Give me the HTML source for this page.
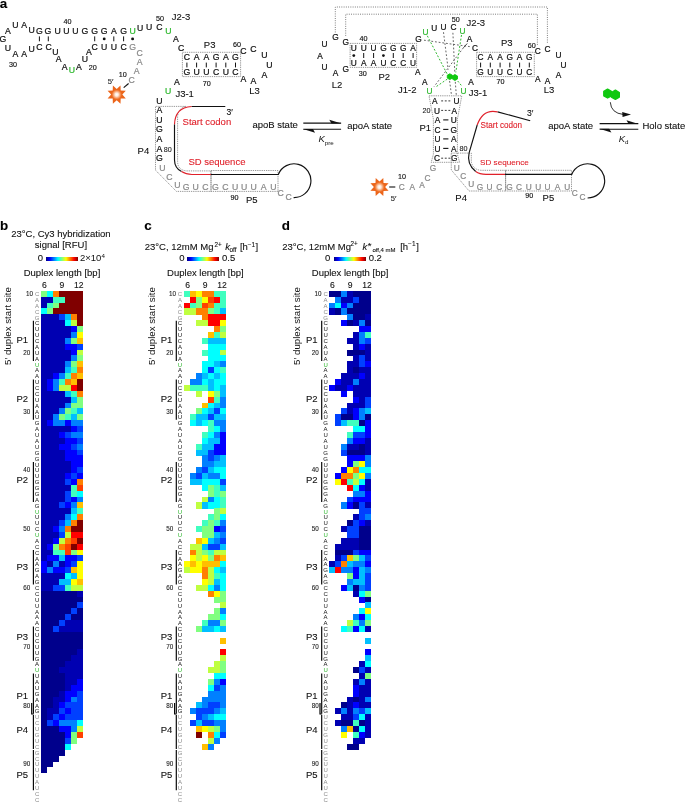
<!DOCTYPE html>
<html lang="en"><head><meta charset="utf-8"><title>Figure</title>
<style>html,body{margin:0;padding:0;background:#fff}svg{display:block}text{white-space:pre}</style></head>
<body>
<svg width="685" height="802" viewBox="0 0 685 802" font-family="'Liberation Sans', sans-serif">
<rect width="685" height="802" fill="#fff"/>
<text x="-0.3" y="7.5" font-size="13.4" fill="#000" text-anchor="start" font-weight="bold" stroke="#000" stroke-width="0.1">a</text>
<text x="0.1" y="230.2" font-size="13.4" fill="#000" text-anchor="start" font-weight="bold" stroke="#000" stroke-width="0.1">b</text>
<text x="144.2" y="230.1" font-size="13.4" fill="#000" text-anchor="start" font-weight="bold" stroke="#000" stroke-width="0.1">c</text>
<text x="281.7" y="230.1" font-size="13.4" fill="#000" text-anchor="start" font-weight="bold" stroke="#000" stroke-width="0.1">d</text>
<g shape-rendering="crispEdges">
<rect x="41.00" y="290.80" width="6.22" height="6.18" fill="#80ff80"/>
<rect x="46.92" y="290.80" width="6.22" height="6.18" fill="#00ffff"/>
<rect x="52.84" y="290.80" width="6.22" height="6.18" fill="#ff8000"/>
<rect x="58.76" y="290.80" width="23.98" height="6.18" fill="#800000"/>
<rect x="41.00" y="296.68" width="12.14" height="6.18" fill="#0000b2"/>
<rect x="52.84" y="296.68" width="12.14" height="6.18" fill="#40ffbf"/>
<rect x="64.68" y="296.68" width="18.06" height="6.18" fill="#800000"/>
<rect x="41.00" y="302.56" width="6.22" height="6.18" fill="#0000b2"/>
<rect x="46.92" y="302.56" width="6.22" height="6.18" fill="#40ffbf"/>
<rect x="52.84" y="302.56" width="6.22" height="6.18" fill="#80ff80"/>
<rect x="58.76" y="302.56" width="23.98" height="6.18" fill="#800000"/>
<rect x="41.00" y="308.44" width="6.22" height="6.18" fill="#00ffff"/>
<rect x="46.92" y="308.44" width="6.22" height="6.18" fill="#80ff80"/>
<rect x="52.84" y="308.44" width="29.90" height="6.18" fill="#800000"/>
<rect x="41.00" y="314.32" width="18.06" height="6.18" fill="#0000b2"/>
<rect x="58.76" y="314.32" width="6.22" height="6.18" fill="#0040ff"/>
<rect x="64.68" y="314.32" width="6.22" height="6.18" fill="#00bfff"/>
<rect x="70.60" y="314.32" width="6.22" height="6.18" fill="#ff8000"/>
<rect x="76.52" y="314.32" width="6.22" height="6.18" fill="#800000"/>
<rect x="41.00" y="320.20" width="23.98" height="6.18" fill="#0000b2"/>
<rect x="64.68" y="320.20" width="6.22" height="6.18" fill="#00ffff"/>
<rect x="70.60" y="320.20" width="6.22" height="6.18" fill="#bfff40"/>
<rect x="76.52" y="320.20" width="6.22" height="6.18" fill="#800000"/>
<rect x="41.00" y="326.08" width="29.90" height="6.18" fill="#0000b2"/>
<rect x="70.60" y="326.08" width="6.22" height="6.18" fill="#0000ff"/>
<rect x="76.52" y="326.08" width="6.22" height="6.18" fill="#80ff80"/>
<rect x="41.00" y="331.96" width="29.90" height="6.18" fill="#0000b2"/>
<rect x="70.60" y="331.96" width="6.22" height="6.18" fill="#0080ff"/>
<rect x="76.52" y="331.96" width="6.22" height="6.18" fill="#ffff00"/>
<rect x="41.00" y="337.84" width="23.98" height="6.18" fill="#0000b2"/>
<rect x="64.68" y="337.84" width="6.22" height="6.18" fill="#0080ff"/>
<rect x="70.60" y="337.84" width="6.22" height="6.18" fill="#80ff80"/>
<rect x="76.52" y="337.84" width="6.22" height="6.18" fill="#ffbf00"/>
<rect x="41.00" y="343.72" width="23.98" height="6.18" fill="#0000b2"/>
<rect x="64.68" y="343.72" width="12.14" height="6.18" fill="#0000ff"/>
<rect x="76.52" y="343.72" width="6.22" height="6.18" fill="#0040ff"/>
<rect x="41.00" y="349.60" width="29.90" height="6.18" fill="#0000b2"/>
<rect x="70.60" y="349.60" width="6.22" height="6.18" fill="#0000ff"/>
<rect x="76.52" y="349.60" width="6.22" height="6.18" fill="#bfff40"/>
<rect x="41.00" y="355.48" width="29.90" height="6.18" fill="#0000b2"/>
<rect x="70.60" y="355.48" width="6.22" height="6.18" fill="#0080ff"/>
<rect x="76.52" y="355.48" width="6.22" height="6.18" fill="#80ff80"/>
<rect x="41.00" y="361.36" width="23.98" height="6.18" fill="#0000b2"/>
<rect x="64.68" y="361.36" width="6.22" height="6.18" fill="#0080ff"/>
<rect x="70.60" y="361.36" width="6.22" height="6.18" fill="#80ff80"/>
<rect x="76.52" y="361.36" width="6.22" height="6.18" fill="#ffbf00"/>
<rect x="41.00" y="367.24" width="23.98" height="6.18" fill="#0000b2"/>
<rect x="64.68" y="367.24" width="6.22" height="6.18" fill="#00bfff"/>
<rect x="70.60" y="367.24" width="6.22" height="6.18" fill="#40ffbf"/>
<rect x="76.52" y="367.24" width="6.22" height="6.18" fill="#ff8000"/>
<rect x="41.00" y="373.12" width="12.14" height="6.18" fill="#0000b2"/>
<rect x="52.84" y="373.12" width="6.22" height="6.18" fill="#0000ff"/>
<rect x="58.76" y="373.12" width="6.22" height="6.18" fill="#0080ff"/>
<rect x="64.68" y="373.12" width="6.22" height="6.18" fill="#40ffbf"/>
<rect x="70.60" y="373.12" width="6.22" height="6.18" fill="#ff8000"/>
<rect x="76.52" y="373.12" width="6.22" height="6.18" fill="#ffbf00"/>
<rect x="41.00" y="379.00" width="6.22" height="6.18" fill="#0000b2"/>
<rect x="46.92" y="379.00" width="6.22" height="6.18" fill="#0000ff"/>
<rect x="52.84" y="379.00" width="6.22" height="6.18" fill="#0080ff"/>
<rect x="58.76" y="379.00" width="6.22" height="6.18" fill="#40ffbf"/>
<rect x="64.68" y="379.00" width="6.22" height="6.18" fill="#ff8000"/>
<rect x="70.60" y="379.00" width="6.22" height="6.18" fill="#ffbf00"/>
<rect x="76.52" y="379.00" width="6.22" height="6.18" fill="#800000"/>
<rect x="41.00" y="384.88" width="6.22" height="6.18" fill="#0000b2"/>
<rect x="46.92" y="384.88" width="6.22" height="6.18" fill="#0000ff"/>
<rect x="52.84" y="384.88" width="6.22" height="6.18" fill="#0080ff"/>
<rect x="58.76" y="384.88" width="12.14" height="6.18" fill="#bfff40"/>
<rect x="70.60" y="384.88" width="6.22" height="6.18" fill="#ff0000"/>
<rect x="76.52" y="384.88" width="6.22" height="6.18" fill="#800000"/>
<rect x="41.00" y="390.76" width="23.98" height="6.18" fill="#0000b2"/>
<rect x="64.68" y="390.76" width="6.22" height="6.18" fill="#00bfff"/>
<rect x="70.60" y="390.76" width="6.22" height="6.18" fill="#40ffbf"/>
<rect x="76.52" y="390.76" width="6.22" height="6.18" fill="#ff8000"/>
<rect x="41.00" y="396.64" width="29.90" height="6.18" fill="#0000b2"/>
<rect x="70.60" y="396.64" width="6.22" height="6.18" fill="#00bfff"/>
<rect x="76.52" y="396.64" width="6.22" height="6.18" fill="#80ff80"/>
<rect x="41.00" y="402.52" width="23.98" height="6.18" fill="#0000b2"/>
<rect x="64.68" y="402.52" width="6.22" height="6.18" fill="#0080ff"/>
<rect x="70.60" y="402.52" width="12.14" height="6.18" fill="#80ff80"/>
<rect x="41.00" y="408.40" width="18.06" height="6.18" fill="#0000b2"/>
<rect x="58.76" y="408.40" width="6.22" height="6.18" fill="#0080ff"/>
<rect x="64.68" y="408.40" width="6.22" height="6.18" fill="#80ff80"/>
<rect x="70.60" y="408.40" width="6.22" height="6.18" fill="#40ffbf"/>
<rect x="76.52" y="408.40" width="6.22" height="6.18" fill="#00bfff"/>
<rect x="41.00" y="414.28" width="12.14" height="6.18" fill="#0000b2"/>
<rect x="52.84" y="414.28" width="6.22" height="6.18" fill="#0080ff"/>
<rect x="58.76" y="414.28" width="6.22" height="6.18" fill="#80ff80"/>
<rect x="64.68" y="414.28" width="6.22" height="6.18" fill="#40ffbf"/>
<rect x="70.60" y="414.28" width="6.22" height="6.18" fill="#00bfff"/>
<rect x="76.52" y="414.28" width="6.22" height="6.18" fill="#80ff80"/>
<rect x="41.00" y="420.16" width="6.22" height="6.18" fill="#0000b2"/>
<rect x="46.92" y="420.16" width="6.22" height="6.18" fill="#0000ff"/>
<rect x="52.84" y="420.16" width="12.14" height="6.18" fill="#0080ff"/>
<rect x="64.68" y="420.16" width="6.22" height="6.18" fill="#0000ff"/>
<rect x="70.60" y="420.16" width="12.14" height="6.18" fill="#0080ff"/>
<rect x="41.00" y="426.04" width="29.90" height="6.18" fill="#0000b2"/>
<rect x="70.60" y="426.04" width="6.22" height="6.18" fill="#0000ff"/>
<rect x="76.52" y="426.04" width="6.22" height="6.18" fill="#0040ff"/>
<rect x="41.00" y="431.92" width="18.06" height="6.18" fill="#0000b2"/>
<rect x="58.76" y="431.92" width="6.22" height="6.18" fill="#0000ff"/>
<rect x="64.68" y="431.92" width="6.22" height="6.18" fill="#0040ff"/>
<rect x="70.60" y="431.92" width="12.14" height="6.18" fill="#0080ff"/>
<rect x="41.00" y="437.80" width="23.98" height="6.18" fill="#0000b2"/>
<rect x="64.68" y="437.80" width="12.14" height="6.18" fill="#0000ff"/>
<rect x="76.52" y="437.80" width="6.22" height="6.18" fill="#0040ff"/>
<rect x="41.00" y="443.68" width="18.06" height="6.18" fill="#0000b2"/>
<rect x="58.76" y="443.68" width="12.14" height="6.18" fill="#0000ff"/>
<rect x="70.60" y="443.68" width="6.22" height="6.18" fill="#0040ff"/>
<rect x="76.52" y="443.68" width="6.22" height="6.18" fill="#0080ff"/>
<rect x="41.00" y="449.56" width="23.98" height="6.18" fill="#0000b2"/>
<rect x="64.68" y="449.56" width="12.14" height="6.18" fill="#0000ff"/>
<rect x="76.52" y="449.56" width="6.22" height="6.18" fill="#0040ff"/>
<rect x="41.00" y="455.44" width="23.98" height="6.18" fill="#0000b2"/>
<rect x="64.68" y="455.44" width="18.06" height="6.18" fill="#0000ff"/>
<rect x="41.00" y="461.32" width="29.90" height="6.18" fill="#0000b2"/>
<rect x="70.60" y="461.32" width="12.14" height="6.18" fill="#0000ff"/>
<rect x="41.00" y="467.20" width="29.90" height="6.18" fill="#0000b2"/>
<rect x="70.60" y="467.20" width="6.22" height="6.18" fill="#0000ff"/>
<rect x="76.52" y="467.20" width="6.22" height="6.18" fill="#0040ff"/>
<rect x="41.00" y="473.08" width="23.98" height="6.18" fill="#0000b2"/>
<rect x="64.68" y="473.08" width="6.22" height="6.18" fill="#0000ff"/>
<rect x="70.60" y="473.08" width="6.22" height="6.18" fill="#0040ff"/>
<rect x="76.52" y="473.08" width="6.22" height="6.18" fill="#0000ff"/>
<rect x="41.00" y="478.96" width="23.98" height="6.18" fill="#0000b2"/>
<rect x="64.68" y="478.96" width="6.22" height="6.18" fill="#0040ff"/>
<rect x="70.60" y="478.96" width="6.22" height="6.18" fill="#0000ff"/>
<rect x="76.52" y="478.96" width="6.22" height="6.18" fill="#ff8000"/>
<rect x="41.00" y="484.84" width="29.90" height="6.18" fill="#0000b2"/>
<rect x="70.60" y="484.84" width="6.22" height="6.18" fill="#40ffbf"/>
<rect x="76.52" y="484.84" width="6.22" height="6.18" fill="#ff4000"/>
<rect x="41.00" y="490.72" width="23.98" height="6.18" fill="#0000b2"/>
<rect x="64.68" y="490.72" width="6.22" height="6.18" fill="#0040ff"/>
<rect x="70.60" y="490.72" width="6.22" height="6.18" fill="#40ffbf"/>
<rect x="76.52" y="490.72" width="6.22" height="6.18" fill="#00ffff"/>
<rect x="41.00" y="496.60" width="23.98" height="6.18" fill="#0000b2"/>
<rect x="64.68" y="496.60" width="6.22" height="6.18" fill="#0040ff"/>
<rect x="70.60" y="496.60" width="6.22" height="6.18" fill="#0000ff"/>
<rect x="76.52" y="496.60" width="6.22" height="6.18" fill="#0080ff"/>
<rect x="41.00" y="502.48" width="18.06" height="6.18" fill="#0000b2"/>
<rect x="58.76" y="502.48" width="6.22" height="6.18" fill="#0040ff"/>
<rect x="64.68" y="502.48" width="6.22" height="6.18" fill="#0000ff"/>
<rect x="70.60" y="502.48" width="6.22" height="6.18" fill="#0080ff"/>
<rect x="76.52" y="502.48" width="6.22" height="6.18" fill="#ffbf00"/>
<rect x="41.00" y="508.36" width="29.90" height="6.18" fill="#0000b2"/>
<rect x="70.60" y="508.36" width="6.22" height="6.18" fill="#00bfff"/>
<rect x="76.52" y="508.36" width="6.22" height="6.18" fill="#40ffbf"/>
<rect x="41.00" y="514.24" width="23.98" height="6.18" fill="#0000b2"/>
<rect x="64.68" y="514.24" width="6.22" height="6.18" fill="#0080ff"/>
<rect x="70.60" y="514.24" width="6.22" height="6.18" fill="#00ffff"/>
<rect x="76.52" y="514.24" width="6.22" height="6.18" fill="#ff8000"/>
<rect x="41.00" y="520.12" width="18.06" height="6.18" fill="#0000b2"/>
<rect x="58.76" y="520.12" width="6.22" height="6.18" fill="#0040ff"/>
<rect x="64.68" y="520.12" width="6.22" height="6.18" fill="#00bfff"/>
<rect x="70.60" y="520.12" width="6.22" height="6.18" fill="#ff8000"/>
<rect x="76.52" y="520.12" width="6.22" height="6.18" fill="#800000"/>
<rect x="41.00" y="526.00" width="12.14" height="6.18" fill="#0000b2"/>
<rect x="52.84" y="526.00" width="6.22" height="6.18" fill="#0000ff"/>
<rect x="58.76" y="526.00" width="6.22" height="6.18" fill="#0080ff"/>
<rect x="64.68" y="526.00" width="6.22" height="6.18" fill="#ff8000"/>
<rect x="70.60" y="526.00" width="12.14" height="6.18" fill="#800000"/>
<rect x="41.00" y="531.88" width="18.06" height="6.18" fill="#0000b2"/>
<rect x="58.76" y="531.88" width="6.22" height="6.18" fill="#0040ff"/>
<rect x="64.68" y="531.88" width="6.22" height="6.18" fill="#bfff40"/>
<rect x="70.60" y="531.88" width="12.14" height="6.18" fill="#ff0000"/>
<rect x="41.00" y="537.76" width="12.14" height="6.18" fill="#0000b2"/>
<rect x="52.84" y="537.76" width="6.22" height="6.18" fill="#0000ff"/>
<rect x="58.76" y="537.76" width="6.22" height="6.18" fill="#bfff40"/>
<rect x="64.68" y="537.76" width="6.22" height="6.18" fill="#ff8000"/>
<rect x="70.60" y="537.76" width="6.22" height="6.18" fill="#ff4000"/>
<rect x="76.52" y="537.76" width="6.22" height="6.18" fill="#800000"/>
<rect x="41.00" y="543.64" width="6.22" height="6.18" fill="#0000b2"/>
<rect x="46.92" y="543.64" width="6.22" height="6.18" fill="#0000ff"/>
<rect x="52.84" y="543.64" width="6.22" height="6.18" fill="#80ff80"/>
<rect x="58.76" y="543.64" width="6.22" height="6.18" fill="#ff8000"/>
<rect x="64.68" y="543.64" width="6.22" height="6.18" fill="#ff4000"/>
<rect x="70.60" y="543.64" width="6.22" height="6.18" fill="#800000"/>
<rect x="76.52" y="543.64" width="6.22" height="6.18" fill="#ff0000"/>
<rect x="41.00" y="549.52" width="12.14" height="6.18" fill="#0000b2"/>
<rect x="52.84" y="549.52" width="12.14" height="6.18" fill="#40ffbf"/>
<rect x="64.68" y="549.52" width="6.22" height="6.18" fill="#ff4000"/>
<rect x="70.60" y="549.52" width="6.22" height="6.18" fill="#80ff80"/>
<rect x="76.52" y="549.52" width="6.22" height="6.18" fill="#ffff00"/>
<rect x="41.00" y="555.40" width="6.22" height="6.18" fill="#0000b2"/>
<rect x="46.92" y="555.40" width="12.14" height="6.18" fill="#0000ff"/>
<rect x="58.76" y="555.40" width="6.22" height="6.18" fill="#00bfff"/>
<rect x="64.68" y="555.40" width="12.14" height="6.18" fill="#0000ff"/>
<rect x="76.52" y="555.40" width="6.22" height="6.18" fill="#0040ff"/>
<rect x="41.00" y="561.28" width="6.22" height="6.18" fill="#0000ff"/>
<rect x="46.92" y="561.28" width="6.22" height="6.18" fill="#0000b2"/>
<rect x="52.84" y="561.28" width="6.22" height="6.18" fill="#0080ff"/>
<rect x="58.76" y="561.28" width="6.22" height="6.18" fill="#0000b2"/>
<rect x="64.68" y="561.28" width="6.22" height="6.18" fill="#0000ff"/>
<rect x="70.60" y="561.28" width="6.22" height="6.18" fill="#0040ff"/>
<rect x="76.52" y="561.28" width="6.22" height="6.18" fill="#ffff00"/>
<rect x="41.00" y="567.16" width="6.22" height="6.18" fill="#0000ff"/>
<rect x="46.92" y="567.16" width="6.22" height="6.18" fill="#0080ff"/>
<rect x="52.84" y="567.16" width="12.14" height="6.18" fill="#0000ff"/>
<rect x="64.68" y="567.16" width="6.22" height="6.18" fill="#0040ff"/>
<rect x="70.60" y="567.16" width="6.22" height="6.18" fill="#ffbf00"/>
<rect x="76.52" y="567.16" width="6.22" height="6.18" fill="#ffff00"/>
<rect x="41.00" y="573.04" width="23.98" height="6.18" fill="#0000b2"/>
<rect x="64.68" y="573.04" width="6.22" height="6.18" fill="#00ffff"/>
<rect x="70.60" y="573.04" width="6.22" height="6.18" fill="#00bfff"/>
<rect x="76.52" y="573.04" width="6.22" height="6.18" fill="#ffff00"/>
<rect x="41.00" y="578.92" width="18.06" height="6.18" fill="#0000b2"/>
<rect x="58.76" y="578.92" width="12.14" height="6.18" fill="#00bfff"/>
<rect x="70.60" y="578.92" width="6.22" height="6.18" fill="#ffff00"/>
<rect x="76.52" y="578.92" width="6.22" height="6.18" fill="#ffbf00"/>
<rect x="41.00" y="584.80" width="12.14" height="6.18" fill="#0000b2"/>
<rect x="52.84" y="584.80" width="12.14" height="6.18" fill="#0040ff"/>
<rect x="64.68" y="584.80" width="6.22" height="6.18" fill="#40ffbf"/>
<rect x="70.60" y="584.80" width="12.14" height="6.18" fill="#bfff40"/>
<rect x="41.00" y="590.68" width="35.82" height="6.18" fill="#00008c"/>
<rect x="76.52" y="590.68" width="6.22" height="6.18" fill="#0000b2"/>
<rect x="41.00" y="596.56" width="41.74" height="6.18" fill="#00008c"/>
<rect x="41.00" y="602.44" width="35.82" height="6.18" fill="#00008c"/>
<rect x="76.52" y="602.44" width="6.22" height="6.18" fill="#0040ff"/>
<rect x="41.00" y="608.32" width="29.90" height="6.18" fill="#00008c"/>
<rect x="70.60" y="608.32" width="6.22" height="6.18" fill="#0040ff"/>
<rect x="76.52" y="608.32" width="6.22" height="6.18" fill="#00008c"/>
<rect x="41.00" y="614.20" width="23.98" height="6.18" fill="#00008c"/>
<rect x="64.68" y="614.20" width="6.22" height="6.18" fill="#0040ff"/>
<rect x="70.60" y="614.20" width="12.14" height="6.18" fill="#00008c"/>
<rect x="41.00" y="620.08" width="18.06" height="6.18" fill="#00008c"/>
<rect x="58.76" y="620.08" width="6.22" height="6.18" fill="#0040ff"/>
<rect x="64.68" y="620.08" width="18.06" height="6.18" fill="#0000b2"/>
<rect x="41.00" y="625.96" width="12.14" height="6.18" fill="#00008c"/>
<rect x="52.84" y="625.96" width="6.22" height="6.18" fill="#0040ff"/>
<rect x="58.76" y="625.96" width="23.98" height="6.18" fill="#0000b2"/>
<rect x="41.00" y="631.84" width="41.74" height="6.18" fill="#00008c"/>
<rect x="41.00" y="637.72" width="41.74" height="6.18" fill="#00008c"/>
<rect x="41.00" y="643.60" width="41.74" height="6.18" fill="#00008c"/>
<rect x="41.00" y="649.48" width="35.82" height="6.18" fill="#00008c"/>
<rect x="76.52" y="649.48" width="6.22" height="6.18" fill="#0000b2"/>
<rect x="41.00" y="655.36" width="29.90" height="6.18" fill="#00008c"/>
<rect x="70.60" y="655.36" width="12.14" height="6.18" fill="#0000b2"/>
<rect x="41.00" y="661.24" width="23.98" height="6.18" fill="#00008c"/>
<rect x="64.68" y="661.24" width="18.06" height="6.18" fill="#0000b2"/>
<rect x="41.00" y="667.12" width="18.06" height="6.18" fill="#00008c"/>
<rect x="58.76" y="667.12" width="23.98" height="6.18" fill="#0000b2"/>
<rect x="41.00" y="673.00" width="23.98" height="6.18" fill="#00008c"/>
<rect x="64.68" y="673.00" width="18.06" height="6.18" fill="#0000b2"/>
<rect x="41.00" y="678.88" width="23.98" height="6.18" fill="#00008c"/>
<rect x="64.68" y="678.88" width="12.14" height="6.18" fill="#0000b2"/>
<rect x="76.52" y="678.88" width="6.22" height="6.18" fill="#0000ff"/>
<rect x="41.00" y="684.76" width="23.98" height="6.18" fill="#00008c"/>
<rect x="64.68" y="684.76" width="6.22" height="6.18" fill="#0000b2"/>
<rect x="70.60" y="684.76" width="12.14" height="6.18" fill="#0000ff"/>
<rect x="41.00" y="690.64" width="18.06" height="6.18" fill="#00008c"/>
<rect x="58.76" y="690.64" width="6.22" height="6.18" fill="#0000b2"/>
<rect x="64.68" y="690.64" width="12.14" height="6.18" fill="#0000ff"/>
<rect x="76.52" y="690.64" width="6.22" height="6.18" fill="#0040ff"/>
<rect x="41.00" y="696.52" width="12.14" height="6.18" fill="#00008c"/>
<rect x="52.84" y="696.52" width="12.14" height="6.18" fill="#0000b2"/>
<rect x="64.68" y="696.52" width="6.22" height="6.18" fill="#0000ff"/>
<rect x="70.60" y="696.52" width="6.22" height="6.18" fill="#0080ff"/>
<rect x="76.52" y="696.52" width="6.22" height="6.18" fill="#0040ff"/>
<rect x="41.00" y="702.40" width="12.14" height="6.18" fill="#00008c"/>
<rect x="52.84" y="702.40" width="6.22" height="6.18" fill="#0000b2"/>
<rect x="58.76" y="702.40" width="6.22" height="6.18" fill="#0000ff"/>
<rect x="64.68" y="702.40" width="18.06" height="6.18" fill="#0040ff"/>
<rect x="41.00" y="708.28" width="6.22" height="6.18" fill="#00008c"/>
<rect x="46.92" y="708.28" width="12.14" height="6.18" fill="#0000b2"/>
<rect x="58.76" y="708.28" width="6.22" height="6.18" fill="#0040ff"/>
<rect x="64.68" y="708.28" width="6.22" height="6.18" fill="#0000ff"/>
<rect x="70.60" y="708.28" width="12.14" height="6.18" fill="#0040ff"/>
<rect x="41.00" y="714.16" width="6.22" height="6.18" fill="#00008c"/>
<rect x="46.92" y="714.16" width="6.22" height="6.18" fill="#0000b2"/>
<rect x="52.84" y="714.16" width="6.22" height="6.18" fill="#0040ff"/>
<rect x="58.76" y="714.16" width="6.22" height="6.18" fill="#0000ff"/>
<rect x="64.68" y="714.16" width="18.06" height="6.18" fill="#0040ff"/>
<rect x="41.00" y="720.04" width="6.22" height="6.18" fill="#00008c"/>
<rect x="46.92" y="720.04" width="6.22" height="6.18" fill="#0040ff"/>
<rect x="52.84" y="720.04" width="6.22" height="6.18" fill="#0000ff"/>
<rect x="58.76" y="720.04" width="18.06" height="6.18" fill="#0080ff"/>
<rect x="76.52" y="720.04" width="6.22" height="6.18" fill="#00ffff"/>
<rect x="41.00" y="725.92" width="18.06" height="6.18" fill="#00008c"/>
<rect x="58.76" y="725.92" width="12.14" height="6.18" fill="#0000ff"/>
<rect x="70.60" y="725.92" width="6.22" height="6.18" fill="#0080ff"/>
<rect x="76.52" y="725.92" width="6.22" height="6.18" fill="#bfff40"/>
<rect x="41.00" y="731.80" width="23.98" height="6.18" fill="#00008c"/>
<rect x="64.68" y="731.80" width="6.22" height="6.18" fill="#0000ff"/>
<rect x="70.60" y="731.80" width="6.22" height="6.18" fill="#80ff80"/>
<rect x="76.52" y="731.80" width="6.22" height="6.18" fill="#ff4000"/>
<rect x="41.00" y="737.68" width="23.98" height="6.18" fill="#00008c"/>
<rect x="64.68" y="737.68" width="6.22" height="6.18" fill="#0040ff"/>
<rect x="70.60" y="737.68" width="6.22" height="6.18" fill="#80ff80"/>
<rect x="41.00" y="743.56" width="23.98" height="6.18" fill="#00008c"/>
<rect x="64.68" y="743.56" width="6.22" height="6.18" fill="#00ffff"/>
<rect x="41.00" y="749.44" width="23.98" height="6.18" fill="#00008c"/>
<rect x="41.00" y="755.32" width="18.06" height="6.18" fill="#00008c"/>
<rect x="41.00" y="761.20" width="12.14" height="6.18" fill="#00008c"/>
<rect x="41.00" y="767.08" width="6.22" height="6.18" fill="#00008c"/>
</g>
<text x="37.1" y="295.9" font-size="6.0" fill="#8a8a8a" text-anchor="middle" stroke="none">C</text>
<text x="37.1" y="301.8" font-size="6.0" fill="#8a8a8a" text-anchor="middle" stroke="none">A</text>
<text x="37.1" y="307.7" font-size="6.0" fill="#8a8a8a" text-anchor="middle" stroke="none">A</text>
<text x="37.1" y="313.6" font-size="6.0" fill="#8a8a8a" text-anchor="middle" stroke="none">C</text>
<text x="37.1" y="319.5" font-size="6.0" fill="#8a8a8a" text-anchor="middle" stroke="none">G</text>
<text x="37.1" y="325.3" font-size="6.0" fill="#111" text-anchor="middle" stroke="none">C</text>
<text x="37.1" y="331.2" font-size="6.0" fill="#111" text-anchor="middle" stroke="none">U</text>
<text x="37.1" y="337.1" font-size="6.0" fill="#111" text-anchor="middle" stroke="none">U</text>
<text x="37.1" y="343.0" font-size="6.0" fill="#111" text-anchor="middle" stroke="none">C</text>
<text x="37.1" y="348.9" font-size="6.0" fill="#111" text-anchor="middle" stroke="none">A</text>
<text x="37.1" y="354.8" font-size="6.0" fill="#111" text-anchor="middle" stroke="none">U</text>
<text x="37.1" y="360.6" font-size="6.0" fill="#111" text-anchor="middle" stroke="none">A</text>
<text x="37.1" y="366.5" font-size="6.0" fill="#2eb82e" text-anchor="middle" stroke="none">U</text>
<text x="37.1" y="372.4" font-size="6.0" fill="#111" text-anchor="middle" stroke="none">A</text>
<text x="37.1" y="378.3" font-size="6.0" fill="#111" text-anchor="middle" stroke="none">A</text>
<text x="37.1" y="384.1" font-size="6.0" fill="#111" text-anchor="middle" stroke="none">U</text>
<text x="37.1" y="390.0" font-size="6.0" fill="#111" text-anchor="middle" stroke="none">C</text>
<text x="37.1" y="395.9" font-size="6.0" fill="#111" text-anchor="middle" stroke="none">C</text>
<text x="37.1" y="401.8" font-size="6.0" fill="#111" text-anchor="middle" stroke="none">U</text>
<text x="37.1" y="407.7" font-size="6.0" fill="#111" text-anchor="middle" stroke="none">A</text>
<text x="37.1" y="413.5" font-size="6.0" fill="#111" text-anchor="middle" stroke="none">A</text>
<text x="37.1" y="419.4" font-size="6.0" fill="#111" text-anchor="middle" stroke="none">U</text>
<text x="37.1" y="425.3" font-size="6.0" fill="#111" text-anchor="middle" stroke="none">G</text>
<text x="37.1" y="431.2" font-size="6.0" fill="#111" text-anchor="middle" stroke="none">A</text>
<text x="37.1" y="437.1" font-size="6.0" fill="#111" text-anchor="middle" stroke="none">U</text>
<text x="37.1" y="442.9" font-size="6.0" fill="#111" text-anchor="middle" stroke="none">A</text>
<text x="37.1" y="448.8" font-size="6.0" fill="#111" text-anchor="middle" stroke="none">U</text>
<text x="37.1" y="454.7" font-size="6.0" fill="#111" text-anchor="middle" stroke="none">G</text>
<text x="37.1" y="460.6" font-size="6.0" fill="#111" text-anchor="middle" stroke="none">G</text>
<text x="37.1" y="466.5" font-size="6.0" fill="#111" text-anchor="middle" stroke="none">U</text>
<text x="37.1" y="472.4" font-size="6.0" fill="#111" text-anchor="middle" stroke="none">U</text>
<text x="37.1" y="478.2" font-size="6.0" fill="#111" text-anchor="middle" stroke="none">U</text>
<text x="37.1" y="484.1" font-size="6.0" fill="#111" text-anchor="middle" stroke="none">G</text>
<text x="37.1" y="490.0" font-size="6.0" fill="#111" text-anchor="middle" stroke="none">G</text>
<text x="37.1" y="495.9" font-size="6.0" fill="#111" text-anchor="middle" stroke="none">G</text>
<text x="37.1" y="501.8" font-size="6.0" fill="#111" text-anchor="middle" stroke="none">A</text>
<text x="37.1" y="507.6" font-size="6.0" fill="#111" text-anchor="middle" stroke="none">G</text>
<text x="37.1" y="513.5" font-size="6.0" fill="#2eb82e" text-anchor="middle" stroke="none">U</text>
<text x="37.1" y="519.4" font-size="6.0" fill="#111" text-anchor="middle" stroke="none">U</text>
<text x="37.1" y="525.3" font-size="6.0" fill="#111" text-anchor="middle" stroke="none">U</text>
<text x="37.1" y="531.1" font-size="6.0" fill="#111" text-anchor="middle" stroke="none">C</text>
<text x="37.1" y="537.0" font-size="6.0" fill="#2eb82e" text-anchor="middle" stroke="none">U</text>
<text x="37.1" y="542.9" font-size="6.0" fill="#111" text-anchor="middle" stroke="none">A</text>
<text x="37.1" y="548.8" font-size="6.0" fill="#111" text-anchor="middle" stroke="none">C</text>
<text x="37.1" y="554.7" font-size="6.0" fill="#111" text-anchor="middle" stroke="none">C</text>
<text x="37.1" y="560.6" font-size="6.0" fill="#111" text-anchor="middle" stroke="none">A</text>
<text x="37.1" y="566.4" font-size="6.0" fill="#111" text-anchor="middle" stroke="none">A</text>
<text x="37.1" y="572.3" font-size="6.0" fill="#111" text-anchor="middle" stroke="none">G</text>
<text x="37.1" y="578.2" font-size="6.0" fill="#111" text-anchor="middle" stroke="none">A</text>
<text x="37.1" y="584.1" font-size="6.0" fill="#111" text-anchor="middle" stroke="none">G</text>
<text x="37.1" y="589.9" font-size="6.0" fill="#111" text-anchor="middle" stroke="none">C</text>
<text x="37.1" y="595.8" font-size="6.0" fill="#111" text-anchor="middle" stroke="none">C</text>
<text x="37.1" y="601.7" font-size="6.0" fill="#111" text-anchor="middle" stroke="none">U</text>
<text x="37.1" y="607.6" font-size="6.0" fill="#111" text-anchor="middle" stroke="none">U</text>
<text x="37.1" y="613.5" font-size="6.0" fill="#111" text-anchor="middle" stroke="none">A</text>
<text x="37.1" y="619.4" font-size="6.0" fill="#111" text-anchor="middle" stroke="none">A</text>
<text x="37.1" y="625.2" font-size="6.0" fill="#111" text-anchor="middle" stroke="none">A</text>
<text x="37.1" y="631.1" font-size="6.0" fill="#111" text-anchor="middle" stroke="none">C</text>
<text x="37.1" y="637.0" font-size="6.0" fill="#111" text-anchor="middle" stroke="none">U</text>
<text x="37.1" y="642.9" font-size="6.0" fill="#111" text-anchor="middle" stroke="none">C</text>
<text x="37.1" y="648.8" font-size="6.0" fill="#111" text-anchor="middle" stroke="none">U</text>
<text x="37.1" y="654.6" font-size="6.0" fill="#111" text-anchor="middle" stroke="none">U</text>
<text x="37.1" y="660.5" font-size="6.0" fill="#111" text-anchor="middle" stroke="none">G</text>
<text x="37.1" y="666.4" font-size="6.0" fill="#111" text-anchor="middle" stroke="none">A</text>
<text x="37.1" y="672.3" font-size="6.0" fill="#2eb82e" text-anchor="middle" stroke="none">U</text>
<text x="37.1" y="678.1" font-size="6.0" fill="#111" text-anchor="middle" stroke="none">U</text>
<text x="37.1" y="684.0" font-size="6.0" fill="#111" text-anchor="middle" stroke="none">A</text>
<text x="37.1" y="689.9" font-size="6.0" fill="#111" text-anchor="middle" stroke="none">U</text>
<text x="37.1" y="695.8" font-size="6.0" fill="#111" text-anchor="middle" stroke="none">G</text>
<text x="37.1" y="701.7" font-size="6.0" fill="#111" text-anchor="middle" stroke="none">A</text>
<text x="37.1" y="707.5" font-size="6.0" fill="#111" text-anchor="middle" stroke="none">A</text>
<text x="37.1" y="713.4" font-size="6.0" fill="#111" text-anchor="middle" stroke="none">G</text>
<text x="37.1" y="719.3" font-size="6.0" fill="#8a8a8a" text-anchor="middle" stroke="none">U</text>
<text x="37.1" y="725.2" font-size="6.0" fill="#8a8a8a" text-anchor="middle" stroke="none">C</text>
<text x="37.1" y="731.1" font-size="6.0" fill="#8a8a8a" text-anchor="middle" stroke="none">U</text>
<text x="37.1" y="736.9" font-size="6.0" fill="#8a8a8a" text-anchor="middle" stroke="none">G</text>
<text x="37.1" y="742.8" font-size="6.0" fill="#8a8a8a" text-anchor="middle" stroke="none">U</text>
<text x="37.1" y="748.7" font-size="6.0" fill="#8a8a8a" text-anchor="middle" stroke="none">C</text>
<text x="37.1" y="754.6" font-size="6.0" fill="#8a8a8a" text-anchor="middle" stroke="none">G</text>
<text x="37.1" y="760.5" font-size="6.0" fill="#8a8a8a" text-anchor="middle" stroke="none">C</text>
<text x="37.1" y="766.4" font-size="6.0" fill="#8a8a8a" text-anchor="middle" stroke="none">U</text>
<text x="37.1" y="772.2" font-size="6.0" fill="#8a8a8a" text-anchor="middle" stroke="none">U</text>
<text x="37.1" y="778.1" font-size="6.0" fill="#8a8a8a" text-anchor="middle" stroke="none">U</text>
<text x="37.1" y="784.0" font-size="6.0" fill="#8a8a8a" text-anchor="middle" stroke="none">A</text>
<text x="37.1" y="789.9" font-size="6.0" fill="#8a8a8a" text-anchor="middle" stroke="none">U</text>
<text x="37.1" y="795.8" font-size="6.0" fill="#8a8a8a" text-anchor="middle" stroke="none">C</text>
<text x="37.1" y="801.6" font-size="6.0" fill="#8a8a8a" text-anchor="middle" stroke="none">C</text>
<text x="33.0" y="296.0" font-size="6.3" fill="#222" text-anchor="end" stroke="#222" stroke-width="0.1">10</text>
<text x="30.3" y="354.8" font-size="6.3" fill="#222" text-anchor="end" stroke="#222" stroke-width="0.1">20</text>
<text x="30.3" y="413.6" font-size="6.3" fill="#222" text-anchor="end" stroke="#222" stroke-width="0.1">30</text>
<text x="30.3" y="472.4" font-size="6.3" fill="#222" text-anchor="end" stroke="#222" stroke-width="0.1">40</text>
<text x="30.3" y="531.2" font-size="6.3" fill="#222" text-anchor="end" stroke="#222" stroke-width="0.1">50</text>
<text x="30.3" y="590.0" font-size="6.3" fill="#222" text-anchor="end" stroke="#222" stroke-width="0.1">60</text>
<text x="30.3" y="648.8" font-size="6.3" fill="#222" text-anchor="end" stroke="#222" stroke-width="0.1">70</text>
<text x="30.3" y="707.6" font-size="6.3" fill="#222" text-anchor="end" stroke="#222" stroke-width="0.1">80</text>
<text x="30.3" y="766.4" font-size="6.3" fill="#222" text-anchor="end" stroke="#222" stroke-width="0.1">90</text>
<line x1="33.4" y1="320.8" x2="33.4" y2="361.0" stroke="#000" stroke-width="1.15"/>
<line x1="33.4" y1="379.6" x2="33.4" y2="419.8" stroke="#000" stroke-width="1.15"/>
<line x1="33.4" y1="461.9" x2="33.4" y2="502.1" stroke="#000" stroke-width="1.15"/>
<line x1="33.4" y1="550.1" x2="33.4" y2="584.4" stroke="#000" stroke-width="1.15"/>
<line x1="33.4" y1="626.6" x2="33.4" y2="660.8" stroke="#000" stroke-width="1.15"/>
<line x1="33.4" y1="673.6" x2="33.4" y2="713.8" stroke="#000" stroke-width="1.15"/>
<line x1="33.4" y1="714.8" x2="33.4" y2="749.0" stroke="#000" stroke-width="1.15"/>
<line x1="33.4" y1="750.0" x2="33.4" y2="790.2" stroke="#000" stroke-width="1.15"/>
<path d="M31.7 703.0 V714.0 H33.4" fill="none" stroke="#000" stroke-width="1.15"/>
<text x="22.3" y="343.0" font-size="9.5" fill="#111" text-anchor="middle" stroke="#111" stroke-width="0.1">P1</text>
<text x="22.3" y="401.8" font-size="9.5" fill="#111" text-anchor="middle" stroke="#111" stroke-width="0.1">P2</text>
<text x="22.3" y="483.0" font-size="9.5" fill="#111" text-anchor="middle" stroke="#111" stroke-width="0.1">P2</text>
<text x="22.3" y="570.0" font-size="9.5" fill="#111" text-anchor="middle" stroke="#111" stroke-width="0.1">P3</text>
<text x="22.3" y="640.0" font-size="9.5" fill="#111" text-anchor="middle" stroke="#111" stroke-width="0.1">P3</text>
<text x="22.3" y="698.8" font-size="9.5" fill="#111" text-anchor="middle" stroke="#111" stroke-width="0.1">P1</text>
<text x="22.3" y="732.9" font-size="9.5" fill="#111" text-anchor="middle" stroke="#111" stroke-width="0.1">P4</text>
<text x="22.3" y="777.6" font-size="9.5" fill="#111" text-anchor="middle" stroke="#111" stroke-width="0.1">P5</text>
<text transform="translate(10.7,326) rotate(-90)" font-size="9.7" fill="#111" text-anchor="middle">5′ duplex start site</text>
<text x="60.9" y="236.9" font-size="9.5" fill="#111" text-anchor="middle" stroke="#111" stroke-width="0.1">23°C, Cy3 hybridization</text>
<text x="60.9" y="248.1" font-size="9.5" fill="#111" text-anchor="middle" stroke="#111" stroke-width="0.1">signal [RFU]</text>
<text x="40.3" y="261.3" font-size="9.5" fill="#111" text-anchor="middle" stroke="#111" stroke-width="0.1">0</text>
<g shape-rendering="crispEdges">
<rect x="45.90" y="256.9" width="1.29" height="4" fill="#00008f"/>
<rect x="46.89" y="256.9" width="1.29" height="4" fill="#0000af"/>
<rect x="47.88" y="256.9" width="1.29" height="4" fill="#0000cf"/>
<rect x="48.87" y="256.9" width="1.29" height="4" fill="#0000ef"/>
<rect x="49.86" y="256.9" width="1.29" height="4" fill="#0010ff"/>
<rect x="50.85" y="256.9" width="1.29" height="4" fill="#0030ff"/>
<rect x="51.84" y="256.9" width="1.29" height="4" fill="#0050ff"/>
<rect x="52.83" y="256.9" width="1.29" height="4" fill="#0070ff"/>
<rect x="53.82" y="256.9" width="1.29" height="4" fill="#008fff"/>
<rect x="54.82" y="256.9" width="1.29" height="4" fill="#00afff"/>
<rect x="55.81" y="256.9" width="1.29" height="4" fill="#00cfff"/>
<rect x="56.80" y="256.9" width="1.29" height="4" fill="#00efff"/>
<rect x="57.79" y="256.9" width="1.29" height="4" fill="#10ffef"/>
<rect x="58.78" y="256.9" width="1.29" height="4" fill="#30ffcf"/>
<rect x="59.77" y="256.9" width="1.29" height="4" fill="#50ffaf"/>
<rect x="60.76" y="256.9" width="1.29" height="4" fill="#70ff8f"/>
<rect x="61.75" y="256.9" width="1.29" height="4" fill="#8fff70"/>
<rect x="62.74" y="256.9" width="1.29" height="4" fill="#afff50"/>
<rect x="63.73" y="256.9" width="1.29" height="4" fill="#cfff30"/>
<rect x="64.72" y="256.9" width="1.29" height="4" fill="#efff10"/>
<rect x="65.71" y="256.9" width="1.29" height="4" fill="#ffef00"/>
<rect x="66.70" y="256.9" width="1.29" height="4" fill="#ffcf00"/>
<rect x="67.69" y="256.9" width="1.29" height="4" fill="#ffaf00"/>
<rect x="68.68" y="256.9" width="1.29" height="4" fill="#ff8f00"/>
<rect x="69.67" y="256.9" width="1.29" height="4" fill="#ff7000"/>
<rect x="70.67" y="256.9" width="1.29" height="4" fill="#ff5000"/>
<rect x="71.66" y="256.9" width="1.29" height="4" fill="#ff3000"/>
<rect x="72.65" y="256.9" width="1.29" height="4" fill="#ff1000"/>
<rect x="73.64" y="256.9" width="1.29" height="4" fill="#ef0000"/>
<rect x="74.63" y="256.9" width="1.29" height="4" fill="#cf0000"/>
<rect x="75.62" y="256.9" width="1.29" height="4" fill="#af0000"/>
<rect x="76.61" y="256.9" width="1.29" height="4" fill="#8f0000"/>
</g>
<text x="80" y="261.3" font-size="9.5" fill="#111">2×10<tspan dy="-3.4" font-size="6.2">4</tspan></text>
<text x="62.0" y="275.5" font-size="9.5" fill="#111" text-anchor="middle" stroke="#111" stroke-width="0.1">Duplex length [bp]</text>
<text x="44.3" y="287.7" font-size="8.6" fill="#111" text-anchor="middle" stroke="#111" stroke-width="0.1">6</text>
<text x="62.0" y="287.7" font-size="8.6" fill="#111" text-anchor="middle" stroke="#111" stroke-width="0.1">9</text>
<text x="78.8" y="287.7" font-size="8.6" fill="#111" text-anchor="middle" stroke="#111" stroke-width="0.1">12</text>
<g shape-rendering="crispEdges">
<rect x="184.15" y="290.80" width="6.25" height="6.18" fill="#40ffbf"/>
<rect x="190.10" y="290.80" width="6.25" height="6.18" fill="#ffbf00"/>
<rect x="196.05" y="290.80" width="6.25" height="6.18" fill="#ffff00"/>
<rect x="202.00" y="290.80" width="12.20" height="6.18" fill="#ff8000"/>
<rect x="213.90" y="290.80" width="12.20" height="6.18" fill="#40ffbf"/>
<rect x="190.10" y="296.68" width="6.25" height="6.18" fill="#ff0000"/>
<rect x="196.05" y="296.68" width="6.25" height="6.18" fill="#80ff80"/>
<rect x="202.00" y="296.68" width="6.25" height="6.18" fill="#ffff00"/>
<rect x="207.95" y="296.68" width="6.25" height="6.18" fill="#ff4000"/>
<rect x="213.90" y="296.68" width="6.25" height="6.18" fill="#ff0000"/>
<rect x="219.85" y="296.68" width="6.25" height="6.18" fill="#40ffbf"/>
<rect x="184.15" y="302.56" width="6.25" height="6.18" fill="#ff0000"/>
<rect x="190.10" y="302.56" width="6.25" height="6.18" fill="#40ffbf"/>
<rect x="196.05" y="302.56" width="6.25" height="6.18" fill="#80ff80"/>
<rect x="202.00" y="302.56" width="6.25" height="6.18" fill="#ff4000"/>
<rect x="207.95" y="302.56" width="6.25" height="6.18" fill="#ff8000"/>
<rect x="213.90" y="302.56" width="12.20" height="6.18" fill="#40ffbf"/>
<rect x="184.15" y="308.44" width="12.20" height="6.18" fill="#bfff40"/>
<rect x="196.05" y="308.44" width="12.20" height="6.18" fill="#ff8000"/>
<rect x="207.95" y="308.44" width="6.25" height="6.18" fill="#80ff80"/>
<rect x="213.90" y="308.44" width="6.25" height="6.18" fill="#40ffbf"/>
<rect x="219.85" y="308.44" width="6.25" height="6.18" fill="#00bfff"/>
<rect x="202.00" y="314.32" width="6.25" height="6.18" fill="#ff8000"/>
<rect x="207.95" y="314.32" width="18.15" height="6.18" fill="#ff0000"/>
<rect x="196.05" y="320.20" width="12.20" height="6.18" fill="#bfff40"/>
<rect x="207.95" y="320.20" width="12.20" height="6.18" fill="#ff0000"/>
<rect x="219.85" y="320.20" width="6.25" height="6.18" fill="#ffff00"/>
<rect x="213.90" y="326.08" width="6.25" height="6.18" fill="#ff8000"/>
<rect x="219.85" y="326.08" width="6.25" height="6.18" fill="#80ff80"/>
<rect x="207.95" y="331.96" width="6.25" height="6.18" fill="#ffbf00"/>
<rect x="213.90" y="331.96" width="6.25" height="6.18" fill="#40ffbf"/>
<rect x="219.85" y="331.96" width="6.25" height="6.18" fill="#bfff40"/>
<rect x="202.00" y="337.84" width="6.25" height="6.18" fill="#40ffbf"/>
<rect x="207.95" y="337.84" width="18.15" height="6.18" fill="#00bfff"/>
<rect x="207.95" y="343.72" width="18.15" height="6.18" fill="#00ffff"/>
<rect x="202.00" y="349.60" width="6.25" height="6.18" fill="#40ffbf"/>
<rect x="207.95" y="349.60" width="12.20" height="6.18" fill="#00ffff"/>
<rect x="219.85" y="349.60" width="6.25" height="6.18" fill="#bfff40"/>
<rect x="207.95" y="355.48" width="18.15" height="6.18" fill="#00ffff"/>
<rect x="202.00" y="361.36" width="12.20" height="6.18" fill="#00ffff"/>
<rect x="213.90" y="361.36" width="6.25" height="6.18" fill="#00bfff"/>
<rect x="219.85" y="361.36" width="6.25" height="6.18" fill="#0080ff"/>
<rect x="202.00" y="367.24" width="6.25" height="6.18" fill="#00ffff"/>
<rect x="207.95" y="367.24" width="6.25" height="6.18" fill="#0040ff"/>
<rect x="213.90" y="367.24" width="6.25" height="6.18" fill="#00ffff"/>
<rect x="219.85" y="367.24" width="6.25" height="6.18" fill="#40ffbf"/>
<rect x="196.05" y="373.12" width="6.25" height="6.18" fill="#0080ff"/>
<rect x="202.00" y="373.12" width="6.25" height="6.18" fill="#00bfff"/>
<rect x="207.95" y="373.12" width="6.25" height="6.18" fill="#00ffff"/>
<rect x="213.90" y="373.12" width="6.25" height="6.18" fill="#00bfff"/>
<rect x="219.85" y="373.12" width="6.25" height="6.18" fill="#00ffff"/>
<rect x="190.10" y="379.00" width="12.20" height="6.18" fill="#0080ff"/>
<rect x="202.00" y="379.00" width="6.25" height="6.18" fill="#00ffff"/>
<rect x="207.95" y="379.00" width="6.25" height="6.18" fill="#00bfff"/>
<rect x="213.90" y="379.00" width="12.20" height="6.18" fill="#00ffff"/>
<rect x="184.15" y="384.88" width="6.25" height="6.18" fill="#bfff40"/>
<rect x="190.10" y="384.88" width="18.15" height="6.18" fill="#40ffbf"/>
<rect x="207.95" y="384.88" width="6.25" height="6.18" fill="#00bfff"/>
<rect x="213.90" y="384.88" width="6.25" height="6.18" fill="#00ffff"/>
<rect x="219.85" y="384.88" width="6.25" height="6.18" fill="#00bfff"/>
<rect x="196.05" y="390.76" width="6.25" height="6.18" fill="#bfff40"/>
<rect x="207.95" y="390.76" width="6.25" height="6.18" fill="#ffff00"/>
<rect x="213.90" y="390.76" width="6.25" height="6.18" fill="#80ff80"/>
<rect x="219.85" y="390.76" width="6.25" height="6.18" fill="#00bfff"/>
<rect x="207.95" y="396.64" width="6.25" height="6.18" fill="#ff4000"/>
<rect x="213.90" y="396.64" width="6.25" height="6.18" fill="#40ffbf"/>
<rect x="219.85" y="396.64" width="6.25" height="6.18" fill="#0080ff"/>
<rect x="202.00" y="402.52" width="6.25" height="6.18" fill="#ffbf00"/>
<rect x="207.95" y="402.52" width="6.25" height="6.18" fill="#00ffff"/>
<rect x="213.90" y="402.52" width="6.25" height="6.18" fill="#00bfff"/>
<rect x="219.85" y="402.52" width="6.25" height="6.18" fill="#0080ff"/>
<rect x="196.05" y="408.40" width="6.25" height="6.18" fill="#80ff80"/>
<rect x="202.00" y="408.40" width="6.25" height="6.18" fill="#00ffff"/>
<rect x="207.95" y="408.40" width="6.25" height="6.18" fill="#00bfff"/>
<rect x="213.90" y="408.40" width="6.25" height="6.18" fill="#0040ff"/>
<rect x="219.85" y="408.40" width="6.25" height="6.18" fill="#00ffff"/>
<rect x="190.10" y="414.28" width="6.25" height="6.18" fill="#40ffbf"/>
<rect x="196.05" y="414.28" width="12.20" height="6.18" fill="#00bfff"/>
<rect x="207.95" y="414.28" width="6.25" height="6.18" fill="#0040ff"/>
<rect x="213.90" y="414.28" width="12.20" height="6.18" fill="#00bfff"/>
<rect x="190.10" y="420.16" width="6.25" height="6.18" fill="#00ffff"/>
<rect x="196.05" y="420.16" width="6.25" height="6.18" fill="#00bfff"/>
<rect x="202.00" y="420.16" width="6.25" height="6.18" fill="#00ffff"/>
<rect x="207.95" y="420.16" width="6.25" height="6.18" fill="#40ffbf"/>
<rect x="213.90" y="420.16" width="12.20" height="6.18" fill="#0080ff"/>
<rect x="207.95" y="426.04" width="6.25" height="6.18" fill="#40ffbf"/>
<rect x="213.90" y="426.04" width="6.25" height="6.18" fill="#00ffff"/>
<rect x="219.85" y="426.04" width="6.25" height="6.18" fill="#0080ff"/>
<rect x="202.00" y="431.92" width="6.25" height="6.18" fill="#40ffbf"/>
<rect x="207.95" y="431.92" width="6.25" height="6.18" fill="#00ffff"/>
<rect x="213.90" y="431.92" width="6.25" height="6.18" fill="#0080ff"/>
<rect x="219.85" y="431.92" width="6.25" height="6.18" fill="#0000ff"/>
<rect x="202.00" y="437.80" width="6.25" height="6.18" fill="#00ffff"/>
<rect x="207.95" y="437.80" width="12.20" height="6.18" fill="#00bfff"/>
<rect x="219.85" y="437.80" width="6.25" height="6.18" fill="#0000ff"/>
<rect x="196.05" y="443.68" width="6.25" height="6.18" fill="#40ffbf"/>
<rect x="202.00" y="443.68" width="12.20" height="6.18" fill="#00bfff"/>
<rect x="213.90" y="443.68" width="12.20" height="6.18" fill="#0000ff"/>
<rect x="196.05" y="449.56" width="12.20" height="6.18" fill="#00bfff"/>
<rect x="207.95" y="449.56" width="6.25" height="6.18" fill="#0040ff"/>
<rect x="213.90" y="449.56" width="12.20" height="6.18" fill="#0000ff"/>
<rect x="202.00" y="455.44" width="6.25" height="6.18" fill="#0080ff"/>
<rect x="207.95" y="455.44" width="6.25" height="6.18" fill="#0040ff"/>
<rect x="213.90" y="455.44" width="6.25" height="6.18" fill="#0080ff"/>
<rect x="219.85" y="455.44" width="6.25" height="6.18" fill="#00bfff"/>
<rect x="202.00" y="461.32" width="12.20" height="6.18" fill="#0080ff"/>
<rect x="213.90" y="461.32" width="12.20" height="6.18" fill="#00bfff"/>
<rect x="196.05" y="467.20" width="6.25" height="6.18" fill="#0080ff"/>
<rect x="202.00" y="467.20" width="6.25" height="6.18" fill="#0040ff"/>
<rect x="207.95" y="467.20" width="6.25" height="6.18" fill="#00bfff"/>
<rect x="213.90" y="467.20" width="12.20" height="6.18" fill="#00ffff"/>
<rect x="190.10" y="473.08" width="6.25" height="6.18" fill="#0080ff"/>
<rect x="196.05" y="473.08" width="6.25" height="6.18" fill="#0040ff"/>
<rect x="202.00" y="473.08" width="6.25" height="6.18" fill="#00bfff"/>
<rect x="207.95" y="473.08" width="12.20" height="6.18" fill="#0080ff"/>
<rect x="219.85" y="473.08" width="6.25" height="6.18" fill="#00ffff"/>
<rect x="190.10" y="478.96" width="12.20" height="6.18" fill="#00bfff"/>
<rect x="202.00" y="478.96" width="18.15" height="6.18" fill="#00ffff"/>
<rect x="219.85" y="478.96" width="6.25" height="6.18" fill="#0040ff"/>
<rect x="202.00" y="484.84" width="6.25" height="6.18" fill="#00ffff"/>
<rect x="207.95" y="484.84" width="6.25" height="6.18" fill="#80ff80"/>
<rect x="213.90" y="484.84" width="6.25" height="6.18" fill="#40ffbf"/>
<rect x="219.85" y="484.84" width="6.25" height="6.18" fill="#00bfff"/>
<rect x="207.95" y="490.72" width="6.25" height="6.18" fill="#80ff80"/>
<rect x="213.90" y="490.72" width="6.25" height="6.18" fill="#40ffbf"/>
<rect x="219.85" y="490.72" width="6.25" height="6.18" fill="#80ff80"/>
<rect x="202.00" y="496.60" width="6.25" height="6.18" fill="#bfff40"/>
<rect x="207.95" y="496.60" width="6.25" height="6.18" fill="#0080ff"/>
<rect x="213.90" y="496.60" width="6.25" height="6.18" fill="#00ffff"/>
<rect x="219.85" y="496.60" width="6.25" height="6.18" fill="#40ffbf"/>
<rect x="196.05" y="502.48" width="6.25" height="6.18" fill="#bfff40"/>
<rect x="202.00" y="502.48" width="6.25" height="6.18" fill="#00bfff"/>
<rect x="207.95" y="502.48" width="12.20" height="6.18" fill="#00ffff"/>
<rect x="219.85" y="502.48" width="6.25" height="6.18" fill="#40ffbf"/>
<rect x="213.90" y="508.36" width="6.25" height="6.18" fill="#80ff80"/>
<rect x="219.85" y="508.36" width="6.25" height="6.18" fill="#bfff40"/>
<rect x="207.95" y="514.24" width="6.25" height="6.18" fill="#40ffbf"/>
<rect x="213.90" y="514.24" width="6.25" height="6.18" fill="#80ff80"/>
<rect x="219.85" y="514.24" width="6.25" height="6.18" fill="#00ffff"/>
<rect x="202.00" y="520.12" width="6.25" height="6.18" fill="#40ffbf"/>
<rect x="207.95" y="520.12" width="6.25" height="6.18" fill="#80ff80"/>
<rect x="213.90" y="520.12" width="6.25" height="6.18" fill="#40ffbf"/>
<rect x="219.85" y="520.12" width="6.25" height="6.18" fill="#0080ff"/>
<rect x="196.05" y="526.00" width="6.25" height="6.18" fill="#40ffbf"/>
<rect x="202.00" y="526.00" width="12.20" height="6.18" fill="#80ff80"/>
<rect x="213.90" y="526.00" width="6.25" height="6.18" fill="#0000ff"/>
<rect x="219.85" y="526.00" width="6.25" height="6.18" fill="#0040ff"/>
<rect x="202.00" y="531.88" width="12.20" height="6.18" fill="#80ff80"/>
<rect x="213.90" y="531.88" width="6.25" height="6.18" fill="#00bfff"/>
<rect x="219.85" y="531.88" width="6.25" height="6.18" fill="#0080ff"/>
<rect x="196.05" y="537.76" width="6.25" height="6.18" fill="#ffbf00"/>
<rect x="202.00" y="537.76" width="6.25" height="6.18" fill="#ffff00"/>
<rect x="207.95" y="537.76" width="6.25" height="6.18" fill="#00bfff"/>
<rect x="213.90" y="537.76" width="6.25" height="6.18" fill="#0080ff"/>
<rect x="219.85" y="537.76" width="6.25" height="6.18" fill="#0040ff"/>
<rect x="190.10" y="543.64" width="12.20" height="6.18" fill="#bfff40"/>
<rect x="202.00" y="543.64" width="6.25" height="6.18" fill="#00bfff"/>
<rect x="207.95" y="543.64" width="12.20" height="6.18" fill="#0040ff"/>
<rect x="219.85" y="543.64" width="6.25" height="6.18" fill="#00bfff"/>
<rect x="190.10" y="549.52" width="6.25" height="6.18" fill="#ff8000"/>
<rect x="196.05" y="549.52" width="6.25" height="6.18" fill="#bfff40"/>
<rect x="202.00" y="549.52" width="6.25" height="6.18" fill="#80ff80"/>
<rect x="207.95" y="549.52" width="6.25" height="6.18" fill="#40ffbf"/>
<rect x="213.90" y="549.52" width="12.20" height="6.18" fill="#bfff40"/>
<rect x="190.10" y="555.40" width="6.25" height="6.18" fill="#ffff00"/>
<rect x="196.05" y="555.40" width="6.25" height="6.18" fill="#bfff40"/>
<rect x="202.00" y="555.40" width="6.25" height="6.18" fill="#ffff00"/>
<rect x="207.95" y="555.40" width="6.25" height="6.18" fill="#80ff80"/>
<rect x="213.90" y="555.40" width="6.25" height="6.18" fill="#ff8000"/>
<rect x="219.85" y="555.40" width="6.25" height="6.18" fill="#ffbf00"/>
<rect x="184.15" y="561.28" width="6.25" height="6.18" fill="#ffff00"/>
<rect x="190.10" y="561.28" width="6.25" height="6.18" fill="#ffbf00"/>
<rect x="196.05" y="561.28" width="6.25" height="6.18" fill="#ffff00"/>
<rect x="202.00" y="561.28" width="18.15" height="6.18" fill="#ffbf00"/>
<rect x="219.85" y="561.28" width="6.25" height="6.18" fill="#00ffff"/>
<rect x="184.15" y="567.16" width="6.25" height="6.18" fill="#bfff40"/>
<rect x="190.10" y="567.16" width="12.20" height="6.18" fill="#ffff00"/>
<rect x="202.00" y="567.16" width="6.25" height="6.18" fill="#ff8000"/>
<rect x="207.95" y="567.16" width="6.25" height="6.18" fill="#bfff40"/>
<rect x="213.90" y="567.16" width="6.25" height="6.18" fill="#00ffff"/>
<rect x="219.85" y="567.16" width="6.25" height="6.18" fill="#00bfff"/>
<rect x="202.00" y="573.04" width="6.25" height="6.18" fill="#ff8000"/>
<rect x="207.95" y="573.04" width="6.25" height="6.18" fill="#bfff40"/>
<rect x="213.90" y="573.04" width="6.25" height="6.18" fill="#40ffbf"/>
<rect x="219.85" y="573.04" width="6.25" height="6.18" fill="#00ffff"/>
<rect x="202.00" y="578.92" width="6.25" height="6.18" fill="#ffff00"/>
<rect x="207.95" y="578.92" width="6.25" height="6.18" fill="#bfff40"/>
<rect x="213.90" y="578.92" width="6.25" height="6.18" fill="#00bfff"/>
<rect x="219.85" y="578.92" width="6.25" height="6.18" fill="#00ffff"/>
<rect x="196.05" y="584.80" width="12.20" height="6.18" fill="#bfff40"/>
<rect x="207.95" y="584.80" width="6.25" height="6.18" fill="#00ffff"/>
<rect x="213.90" y="584.80" width="6.25" height="6.18" fill="#0080ff"/>
<rect x="219.85" y="584.80" width="6.25" height="6.18" fill="#00ffff"/>
<rect x="207.95" y="590.68" width="6.25" height="6.18" fill="#ff8000"/>
<rect x="213.90" y="590.68" width="6.25" height="6.18" fill="#ffff00"/>
<rect x="219.85" y="590.68" width="6.25" height="6.18" fill="#80ff80"/>
<rect x="213.90" y="596.56" width="12.20" height="6.18" fill="#80ff80"/>
<rect x="219.85" y="602.44" width="6.25" height="6.18" fill="#bfff40"/>
<rect x="213.90" y="608.32" width="6.25" height="6.18" fill="#80ff80"/>
<rect x="219.85" y="608.32" width="6.25" height="6.18" fill="#0080ff"/>
<rect x="207.95" y="614.20" width="12.20" height="6.18" fill="#80ff80"/>
<rect x="219.85" y="614.20" width="6.25" height="6.18" fill="#00ffff"/>
<rect x="202.00" y="620.08" width="6.25" height="6.18" fill="#40ffbf"/>
<rect x="207.95" y="620.08" width="12.20" height="6.18" fill="#0080ff"/>
<rect x="219.85" y="620.08" width="6.25" height="6.18" fill="#80ff80"/>
<rect x="196.05" y="625.96" width="6.25" height="6.18" fill="#80ff80"/>
<rect x="202.00" y="625.96" width="12.20" height="6.18" fill="#00bfff"/>
<rect x="213.90" y="625.96" width="6.25" height="6.18" fill="#00ffff"/>
<rect x="219.85" y="625.96" width="6.25" height="6.18" fill="#00bfff"/>
<rect x="219.85" y="637.72" width="6.25" height="6.18" fill="#ffbf00"/>
<rect x="219.85" y="649.48" width="6.25" height="6.18" fill="#ff0000"/>
<rect x="219.85" y="655.36" width="6.25" height="6.18" fill="#bfff40"/>
<rect x="213.90" y="661.24" width="6.25" height="6.18" fill="#bfff40"/>
<rect x="219.85" y="661.24" width="6.25" height="6.18" fill="#80ff80"/>
<rect x="207.95" y="667.12" width="12.20" height="6.18" fill="#bfff40"/>
<rect x="219.85" y="667.12" width="6.25" height="6.18" fill="#80ff80"/>
<rect x="213.90" y="673.00" width="12.20" height="6.18" fill="#00ffff"/>
<rect x="207.95" y="678.88" width="6.25" height="6.18" fill="#80ff80"/>
<rect x="213.90" y="678.88" width="6.25" height="6.18" fill="#0080ff"/>
<rect x="219.85" y="678.88" width="6.25" height="6.18" fill="#0000ff"/>
<rect x="207.95" y="684.76" width="6.25" height="6.18" fill="#00ffff"/>
<rect x="213.90" y="684.76" width="6.25" height="6.18" fill="#0040ff"/>
<rect x="219.85" y="684.76" width="6.25" height="6.18" fill="#0080ff"/>
<rect x="207.95" y="690.64" width="18.15" height="6.18" fill="#0080ff"/>
<rect x="202.00" y="696.52" width="24.10" height="6.18" fill="#0080ff"/>
<rect x="196.05" y="702.40" width="6.25" height="6.18" fill="#00bfff"/>
<rect x="202.00" y="702.40" width="6.25" height="6.18" fill="#0080ff"/>
<rect x="207.95" y="702.40" width="12.20" height="6.18" fill="#0040ff"/>
<rect x="219.85" y="702.40" width="6.25" height="6.18" fill="#0080ff"/>
<rect x="190.10" y="708.28" width="6.25" height="6.18" fill="#0080ff"/>
<rect x="196.05" y="708.28" width="18.15" height="6.18" fill="#0040ff"/>
<rect x="213.90" y="708.28" width="6.25" height="6.18" fill="#0080ff"/>
<rect x="219.85" y="708.28" width="6.25" height="6.18" fill="#00bfff"/>
<rect x="196.05" y="714.16" width="6.25" height="6.18" fill="#0040ff"/>
<rect x="202.00" y="714.16" width="6.25" height="6.18" fill="#0080ff"/>
<rect x="207.95" y="714.16" width="6.25" height="6.18" fill="#00bfff"/>
<rect x="213.90" y="714.16" width="12.20" height="6.18" fill="#00ffff"/>
<rect x="190.10" y="720.04" width="6.25" height="6.18" fill="#0040ff"/>
<rect x="196.05" y="720.04" width="6.25" height="6.18" fill="#00bfff"/>
<rect x="202.00" y="720.04" width="12.20" height="6.18" fill="#0040ff"/>
<rect x="213.90" y="720.04" width="12.20" height="6.18" fill="#0080ff"/>
<rect x="196.05" y="725.92" width="6.25" height="6.18" fill="#ffbf00"/>
<rect x="202.00" y="725.92" width="6.25" height="6.18" fill="#ffff00"/>
<rect x="207.95" y="725.92" width="6.25" height="6.18" fill="#bfff40"/>
<rect x="213.90" y="725.92" width="6.25" height="6.18" fill="#80ff80"/>
<rect x="219.85" y="725.92" width="6.25" height="6.18" fill="#0080ff"/>
<rect x="196.05" y="731.80" width="6.25" height="6.18" fill="#800000"/>
<rect x="207.95" y="731.80" width="6.25" height="6.18" fill="#ff8000"/>
<rect x="213.90" y="731.80" width="6.25" height="6.18" fill="#00ffff"/>
<rect x="219.85" y="731.80" width="6.25" height="6.18" fill="#0040ff"/>
<rect x="207.95" y="737.68" width="6.25" height="6.18" fill="#bfff40"/>
<rect x="213.90" y="737.68" width="6.25" height="6.18" fill="#0080ff"/>
<rect x="202.00" y="743.56" width="6.25" height="6.18" fill="#ffbf00"/>
<rect x="207.95" y="743.56" width="6.25" height="6.18" fill="#0080ff"/>
</g>
<text x="180.0" y="295.9" font-size="6.0" fill="#8a8a8a" text-anchor="middle" stroke="none">C</text>
<text x="180.0" y="301.8" font-size="6.0" fill="#8a8a8a" text-anchor="middle" stroke="none">A</text>
<text x="180.0" y="307.7" font-size="6.0" fill="#8a8a8a" text-anchor="middle" stroke="none">A</text>
<text x="180.0" y="313.6" font-size="6.0" fill="#8a8a8a" text-anchor="middle" stroke="none">C</text>
<text x="180.0" y="319.5" font-size="6.0" fill="#8a8a8a" text-anchor="middle" stroke="none">G</text>
<text x="180.0" y="325.3" font-size="6.0" fill="#111" text-anchor="middle" stroke="none">C</text>
<text x="180.0" y="331.2" font-size="6.0" fill="#111" text-anchor="middle" stroke="none">U</text>
<text x="180.0" y="337.1" font-size="6.0" fill="#111" text-anchor="middle" stroke="none">U</text>
<text x="180.0" y="343.0" font-size="6.0" fill="#111" text-anchor="middle" stroke="none">C</text>
<text x="180.0" y="348.9" font-size="6.0" fill="#111" text-anchor="middle" stroke="none">A</text>
<text x="180.0" y="354.8" font-size="6.0" fill="#111" text-anchor="middle" stroke="none">U</text>
<text x="180.0" y="360.6" font-size="6.0" fill="#111" text-anchor="middle" stroke="none">A</text>
<text x="180.0" y="366.5" font-size="6.0" fill="#2eb82e" text-anchor="middle" stroke="none">U</text>
<text x="180.0" y="372.4" font-size="6.0" fill="#111" text-anchor="middle" stroke="none">A</text>
<text x="180.0" y="378.3" font-size="6.0" fill="#111" text-anchor="middle" stroke="none">A</text>
<text x="180.0" y="384.1" font-size="6.0" fill="#111" text-anchor="middle" stroke="none">U</text>
<text x="180.0" y="390.0" font-size="6.0" fill="#111" text-anchor="middle" stroke="none">C</text>
<text x="180.0" y="395.9" font-size="6.0" fill="#111" text-anchor="middle" stroke="none">C</text>
<text x="180.0" y="401.8" font-size="6.0" fill="#111" text-anchor="middle" stroke="none">U</text>
<text x="180.0" y="407.7" font-size="6.0" fill="#111" text-anchor="middle" stroke="none">A</text>
<text x="180.0" y="413.5" font-size="6.0" fill="#111" text-anchor="middle" stroke="none">A</text>
<text x="180.0" y="419.4" font-size="6.0" fill="#111" text-anchor="middle" stroke="none">U</text>
<text x="180.0" y="425.3" font-size="6.0" fill="#111" text-anchor="middle" stroke="none">G</text>
<text x="180.0" y="431.2" font-size="6.0" fill="#111" text-anchor="middle" stroke="none">A</text>
<text x="180.0" y="437.1" font-size="6.0" fill="#111" text-anchor="middle" stroke="none">U</text>
<text x="180.0" y="442.9" font-size="6.0" fill="#111" text-anchor="middle" stroke="none">A</text>
<text x="180.0" y="448.8" font-size="6.0" fill="#111" text-anchor="middle" stroke="none">U</text>
<text x="180.0" y="454.7" font-size="6.0" fill="#111" text-anchor="middle" stroke="none">G</text>
<text x="180.0" y="460.6" font-size="6.0" fill="#111" text-anchor="middle" stroke="none">G</text>
<text x="180.0" y="466.5" font-size="6.0" fill="#111" text-anchor="middle" stroke="none">U</text>
<text x="180.0" y="472.4" font-size="6.0" fill="#111" text-anchor="middle" stroke="none">U</text>
<text x="180.0" y="478.2" font-size="6.0" fill="#111" text-anchor="middle" stroke="none">U</text>
<text x="180.0" y="484.1" font-size="6.0" fill="#111" text-anchor="middle" stroke="none">G</text>
<text x="180.0" y="490.0" font-size="6.0" fill="#111" text-anchor="middle" stroke="none">G</text>
<text x="180.0" y="495.9" font-size="6.0" fill="#111" text-anchor="middle" stroke="none">G</text>
<text x="180.0" y="501.8" font-size="6.0" fill="#111" text-anchor="middle" stroke="none">A</text>
<text x="180.0" y="507.6" font-size="6.0" fill="#111" text-anchor="middle" stroke="none">G</text>
<text x="180.0" y="513.5" font-size="6.0" fill="#2eb82e" text-anchor="middle" stroke="none">U</text>
<text x="180.0" y="519.4" font-size="6.0" fill="#111" text-anchor="middle" stroke="none">U</text>
<text x="180.0" y="525.3" font-size="6.0" fill="#111" text-anchor="middle" stroke="none">U</text>
<text x="180.0" y="531.1" font-size="6.0" fill="#111" text-anchor="middle" stroke="none">C</text>
<text x="180.0" y="537.0" font-size="6.0" fill="#2eb82e" text-anchor="middle" stroke="none">U</text>
<text x="180.0" y="542.9" font-size="6.0" fill="#111" text-anchor="middle" stroke="none">A</text>
<text x="180.0" y="548.8" font-size="6.0" fill="#111" text-anchor="middle" stroke="none">C</text>
<text x="180.0" y="554.7" font-size="6.0" fill="#111" text-anchor="middle" stroke="none">C</text>
<text x="180.0" y="560.6" font-size="6.0" fill="#111" text-anchor="middle" stroke="none">A</text>
<text x="180.0" y="566.4" font-size="6.0" fill="#111" text-anchor="middle" stroke="none">A</text>
<text x="180.0" y="572.3" font-size="6.0" fill="#111" text-anchor="middle" stroke="none">G</text>
<text x="180.0" y="578.2" font-size="6.0" fill="#111" text-anchor="middle" stroke="none">A</text>
<text x="180.0" y="584.1" font-size="6.0" fill="#111" text-anchor="middle" stroke="none">G</text>
<text x="180.0" y="589.9" font-size="6.0" fill="#111" text-anchor="middle" stroke="none">C</text>
<text x="180.0" y="595.8" font-size="6.0" fill="#111" text-anchor="middle" stroke="none">C</text>
<text x="180.0" y="601.7" font-size="6.0" fill="#111" text-anchor="middle" stroke="none">U</text>
<text x="180.0" y="607.6" font-size="6.0" fill="#111" text-anchor="middle" stroke="none">U</text>
<text x="180.0" y="613.5" font-size="6.0" fill="#111" text-anchor="middle" stroke="none">A</text>
<text x="180.0" y="619.4" font-size="6.0" fill="#111" text-anchor="middle" stroke="none">A</text>
<text x="180.0" y="625.2" font-size="6.0" fill="#111" text-anchor="middle" stroke="none">A</text>
<text x="180.0" y="631.1" font-size="6.0" fill="#111" text-anchor="middle" stroke="none">C</text>
<text x="180.0" y="637.0" font-size="6.0" fill="#111" text-anchor="middle" stroke="none">U</text>
<text x="180.0" y="642.9" font-size="6.0" fill="#111" text-anchor="middle" stroke="none">C</text>
<text x="180.0" y="648.8" font-size="6.0" fill="#111" text-anchor="middle" stroke="none">U</text>
<text x="180.0" y="654.6" font-size="6.0" fill="#111" text-anchor="middle" stroke="none">U</text>
<text x="180.0" y="660.5" font-size="6.0" fill="#111" text-anchor="middle" stroke="none">G</text>
<text x="180.0" y="666.4" font-size="6.0" fill="#111" text-anchor="middle" stroke="none">A</text>
<text x="180.0" y="672.3" font-size="6.0" fill="#2eb82e" text-anchor="middle" stroke="none">U</text>
<text x="180.0" y="678.1" font-size="6.0" fill="#111" text-anchor="middle" stroke="none">U</text>
<text x="180.0" y="684.0" font-size="6.0" fill="#111" text-anchor="middle" stroke="none">A</text>
<text x="180.0" y="689.9" font-size="6.0" fill="#111" text-anchor="middle" stroke="none">U</text>
<text x="180.0" y="695.8" font-size="6.0" fill="#111" text-anchor="middle" stroke="none">G</text>
<text x="180.0" y="701.7" font-size="6.0" fill="#111" text-anchor="middle" stroke="none">A</text>
<text x="180.0" y="707.5" font-size="6.0" fill="#111" text-anchor="middle" stroke="none">A</text>
<text x="180.0" y="713.4" font-size="6.0" fill="#111" text-anchor="middle" stroke="none">G</text>
<text x="180.0" y="719.3" font-size="6.0" fill="#8a8a8a" text-anchor="middle" stroke="none">U</text>
<text x="180.0" y="725.2" font-size="6.0" fill="#8a8a8a" text-anchor="middle" stroke="none">C</text>
<text x="180.0" y="731.1" font-size="6.0" fill="#8a8a8a" text-anchor="middle" stroke="none">U</text>
<text x="180.0" y="736.9" font-size="6.0" fill="#8a8a8a" text-anchor="middle" stroke="none">G</text>
<text x="180.0" y="742.8" font-size="6.0" fill="#8a8a8a" text-anchor="middle" stroke="none">U</text>
<text x="180.0" y="748.7" font-size="6.0" fill="#8a8a8a" text-anchor="middle" stroke="none">C</text>
<text x="180.0" y="754.6" font-size="6.0" fill="#8a8a8a" text-anchor="middle" stroke="none">G</text>
<text x="180.0" y="760.5" font-size="6.0" fill="#8a8a8a" text-anchor="middle" stroke="none">C</text>
<text x="180.0" y="766.4" font-size="6.0" fill="#8a8a8a" text-anchor="middle" stroke="none">U</text>
<text x="180.0" y="772.2" font-size="6.0" fill="#8a8a8a" text-anchor="middle" stroke="none">U</text>
<text x="180.0" y="778.1" font-size="6.0" fill="#8a8a8a" text-anchor="middle" stroke="none">U</text>
<text x="180.0" y="784.0" font-size="6.0" fill="#8a8a8a" text-anchor="middle" stroke="none">A</text>
<text x="180.0" y="789.9" font-size="6.0" fill="#8a8a8a" text-anchor="middle" stroke="none">U</text>
<text x="180.0" y="795.8" font-size="6.0" fill="#8a8a8a" text-anchor="middle" stroke="none">C</text>
<text x="180.0" y="801.6" font-size="6.0" fill="#8a8a8a" text-anchor="middle" stroke="none">C</text>
<text x="176.0" y="296.0" font-size="6.3" fill="#222" text-anchor="end" stroke="#222" stroke-width="0.1">10</text>
<text x="173.3" y="354.8" font-size="6.3" fill="#222" text-anchor="end" stroke="#222" stroke-width="0.1">20</text>
<text x="173.3" y="413.6" font-size="6.3" fill="#222" text-anchor="end" stroke="#222" stroke-width="0.1">30</text>
<text x="173.3" y="472.4" font-size="6.3" fill="#222" text-anchor="end" stroke="#222" stroke-width="0.1">40</text>
<text x="173.3" y="531.2" font-size="6.3" fill="#222" text-anchor="end" stroke="#222" stroke-width="0.1">50</text>
<text x="173.3" y="590.0" font-size="6.3" fill="#222" text-anchor="end" stroke="#222" stroke-width="0.1">60</text>
<text x="173.3" y="648.8" font-size="6.3" fill="#222" text-anchor="end" stroke="#222" stroke-width="0.1">70</text>
<text x="173.3" y="707.6" font-size="6.3" fill="#222" text-anchor="end" stroke="#222" stroke-width="0.1">80</text>
<text x="173.3" y="766.4" font-size="6.3" fill="#222" text-anchor="end" stroke="#222" stroke-width="0.1">90</text>
<line x1="176.3" y1="320.8" x2="176.3" y2="361.0" stroke="#000" stroke-width="1.15"/>
<line x1="176.3" y1="379.6" x2="176.3" y2="419.8" stroke="#000" stroke-width="1.15"/>
<line x1="176.3" y1="461.9" x2="176.3" y2="502.1" stroke="#000" stroke-width="1.15"/>
<line x1="176.3" y1="550.1" x2="176.3" y2="584.4" stroke="#000" stroke-width="1.15"/>
<line x1="176.3" y1="626.6" x2="176.3" y2="660.8" stroke="#000" stroke-width="1.15"/>
<line x1="176.3" y1="673.6" x2="176.3" y2="713.8" stroke="#000" stroke-width="1.15"/>
<line x1="176.3" y1="714.8" x2="176.3" y2="749.0" stroke="#000" stroke-width="1.15"/>
<line x1="176.3" y1="750.0" x2="176.3" y2="790.2" stroke="#000" stroke-width="1.15"/>
<path d="M174.6 703.0 V714.0 H176.3" fill="none" stroke="#000" stroke-width="1.15"/>
<text x="166.6" y="343.0" font-size="9.5" fill="#111" text-anchor="middle" stroke="#111" stroke-width="0.1">P1</text>
<text x="166.6" y="401.8" font-size="9.5" fill="#111" text-anchor="middle" stroke="#111" stroke-width="0.1">P2</text>
<text x="166.6" y="483.0" font-size="9.5" fill="#111" text-anchor="middle" stroke="#111" stroke-width="0.1">P2</text>
<text x="166.6" y="570.0" font-size="9.5" fill="#111" text-anchor="middle" stroke="#111" stroke-width="0.1">P3</text>
<text x="166.6" y="640.0" font-size="9.5" fill="#111" text-anchor="middle" stroke="#111" stroke-width="0.1">P3</text>
<text x="166.6" y="698.8" font-size="9.5" fill="#111" text-anchor="middle" stroke="#111" stroke-width="0.1">P1</text>
<text x="166.6" y="732.9" font-size="9.5" fill="#111" text-anchor="middle" stroke="#111" stroke-width="0.1">P4</text>
<text x="166.6" y="777.6" font-size="9.5" fill="#111" text-anchor="middle" stroke="#111" stroke-width="0.1">P5</text>
<text transform="translate(155.0,326) rotate(-90)" font-size="9.7" fill="#111" text-anchor="middle">5′ duplex start site</text>
<text x="144.7" y="250.1" font-size="9.5" fill="#111" text-anchor="start" stroke="#111" stroke-width="0.1">23°C, 12mM Mg</text>
<text x="214.5" y="246.5" font-size="6.3" fill="#111" text-anchor="start" stroke="#111" stroke-width="0.1">2+</text>
<text x="225.3" y="250.1" font-size="9.5" fill="#111" text-anchor="start" font-style="italic" stroke="#111" stroke-width="0.1">k</text>
<text x="229.4" y="252.1" font-size="6.6" fill="#111" text-anchor="start" stroke="#111" stroke-width="0.1">off</text>
<text x="239.9" y="250.1" font-size="9.5" fill="#111" text-anchor="start" stroke="#111" stroke-width="0.1">[h</text>
<text x="247.7" y="246.5" font-size="6.5" fill="#111" text-anchor="start" stroke="#111" stroke-width="0.1">−1</text>
<text x="255.6" y="250.1" font-size="9.5" fill="#111" text-anchor="start" stroke="#111" stroke-width="0.1">]</text>
<text x="182.0" y="261.3" font-size="9.5" fill="#111" text-anchor="middle" stroke="#111" stroke-width="0.1">0</text>
<g shape-rendering="crispEdges">
<rect x="187.00" y="256.9" width="1.29" height="4" fill="#00008f"/>
<rect x="187.99" y="256.9" width="1.29" height="4" fill="#0000af"/>
<rect x="188.99" y="256.9" width="1.29" height="4" fill="#0000cf"/>
<rect x="189.98" y="256.9" width="1.29" height="4" fill="#0000ef"/>
<rect x="190.97" y="256.9" width="1.29" height="4" fill="#0010ff"/>
<rect x="191.97" y="256.9" width="1.29" height="4" fill="#0030ff"/>
<rect x="192.96" y="256.9" width="1.29" height="4" fill="#0050ff"/>
<rect x="193.96" y="256.9" width="1.29" height="4" fill="#0070ff"/>
<rect x="194.95" y="256.9" width="1.29" height="4" fill="#008fff"/>
<rect x="195.94" y="256.9" width="1.29" height="4" fill="#00afff"/>
<rect x="196.94" y="256.9" width="1.29" height="4" fill="#00cfff"/>
<rect x="197.93" y="256.9" width="1.29" height="4" fill="#00efff"/>
<rect x="198.93" y="256.9" width="1.29" height="4" fill="#10ffef"/>
<rect x="199.92" y="256.9" width="1.29" height="4" fill="#30ffcf"/>
<rect x="200.91" y="256.9" width="1.29" height="4" fill="#50ffaf"/>
<rect x="201.91" y="256.9" width="1.29" height="4" fill="#70ff8f"/>
<rect x="202.90" y="256.9" width="1.29" height="4" fill="#8fff70"/>
<rect x="203.89" y="256.9" width="1.29" height="4" fill="#afff50"/>
<rect x="204.89" y="256.9" width="1.29" height="4" fill="#cfff30"/>
<rect x="205.88" y="256.9" width="1.29" height="4" fill="#efff10"/>
<rect x="206.88" y="256.9" width="1.29" height="4" fill="#ffef00"/>
<rect x="207.87" y="256.9" width="1.29" height="4" fill="#ffcf00"/>
<rect x="208.86" y="256.9" width="1.29" height="4" fill="#ffaf00"/>
<rect x="209.86" y="256.9" width="1.29" height="4" fill="#ff8f00"/>
<rect x="210.85" y="256.9" width="1.29" height="4" fill="#ff7000"/>
<rect x="211.84" y="256.9" width="1.29" height="4" fill="#ff5000"/>
<rect x="212.84" y="256.9" width="1.29" height="4" fill="#ff3000"/>
<rect x="213.83" y="256.9" width="1.29" height="4" fill="#ff1000"/>
<rect x="214.82" y="256.9" width="1.29" height="4" fill="#ef0000"/>
<rect x="215.82" y="256.9" width="1.29" height="4" fill="#cf0000"/>
<rect x="216.81" y="256.9" width="1.29" height="4" fill="#af0000"/>
<rect x="217.81" y="256.9" width="1.29" height="4" fill="#8f0000"/>
</g>
<text x="222.0" y="261.3" font-size="9.5" fill="#111" text-anchor="start" stroke="#111" stroke-width="0.1">0.5</text>
<text x="205.4" y="275.5" font-size="9.5" fill="#111" text-anchor="middle" stroke="#111" stroke-width="0.1">Duplex length [bp]</text>
<text x="187.7" y="287.7" font-size="8.6" fill="#111" text-anchor="middle" stroke="#111" stroke-width="0.1">6</text>
<text x="205.2" y="287.7" font-size="8.6" fill="#111" text-anchor="middle" stroke="#111" stroke-width="0.1">9</text>
<text x="222.0" y="287.7" font-size="8.6" fill="#111" text-anchor="middle" stroke="#111" stroke-width="0.1">12</text>
<g shape-rendering="crispEdges">
<rect x="329.15" y="290.80" width="12.20" height="6.18" fill="#00008c"/>
<rect x="341.05" y="290.80" width="6.25" height="6.18" fill="#0080ff"/>
<rect x="347.00" y="290.80" width="6.25" height="6.18" fill="#0000b2"/>
<rect x="352.95" y="290.80" width="18.15" height="6.18" fill="#00008c"/>
<rect x="335.10" y="296.68" width="6.25" height="6.18" fill="#0080ff"/>
<rect x="341.05" y="296.68" width="12.20" height="6.18" fill="#0000b2"/>
<rect x="352.95" y="296.68" width="6.25" height="6.18" fill="#0040ff"/>
<rect x="358.90" y="296.68" width="12.20" height="6.18" fill="#00008c"/>
<rect x="329.15" y="302.56" width="6.25" height="6.18" fill="#0080ff"/>
<rect x="335.10" y="302.56" width="6.25" height="6.18" fill="#00ffff"/>
<rect x="341.05" y="302.56" width="6.25" height="6.18" fill="#0000ff"/>
<rect x="347.00" y="302.56" width="6.25" height="6.18" fill="#0080ff"/>
<rect x="352.95" y="302.56" width="18.15" height="6.18" fill="#00008c"/>
<rect x="329.15" y="308.44" width="6.25" height="6.18" fill="#0000b2"/>
<rect x="335.10" y="308.44" width="6.25" height="6.18" fill="#00008c"/>
<rect x="341.05" y="308.44" width="6.25" height="6.18" fill="#0080ff"/>
<rect x="347.00" y="308.44" width="24.10" height="6.18" fill="#00008c"/>
<rect x="347.00" y="314.32" width="6.25" height="6.18" fill="#0080ff"/>
<rect x="352.95" y="314.32" width="12.20" height="6.18" fill="#00008c"/>
<rect x="364.85" y="314.32" width="6.25" height="6.18" fill="#0000b2"/>
<rect x="341.05" y="320.20" width="6.25" height="6.18" fill="#0000ff"/>
<rect x="347.00" y="320.20" width="6.25" height="6.18" fill="#00008c"/>
<rect x="352.95" y="320.20" width="6.25" height="6.18" fill="#0000b2"/>
<rect x="358.90" y="320.20" width="6.25" height="6.18" fill="#0080ff"/>
<rect x="364.85" y="320.20" width="6.25" height="6.18" fill="#00008c"/>
<rect x="358.90" y="326.08" width="12.20" height="6.18" fill="#0000ff"/>
<rect x="352.95" y="331.96" width="6.25" height="6.18" fill="#0000b2"/>
<rect x="358.90" y="331.96" width="6.25" height="6.18" fill="#0080ff"/>
<rect x="364.85" y="331.96" width="6.25" height="6.18" fill="#40ffbf"/>
<rect x="347.00" y="337.84" width="12.20" height="6.18" fill="#0000b2"/>
<rect x="358.90" y="337.84" width="6.25" height="6.18" fill="#0080ff"/>
<rect x="364.85" y="337.84" width="6.25" height="6.18" fill="#0040ff"/>
<rect x="352.95" y="343.72" width="6.25" height="6.18" fill="#0000b2"/>
<rect x="358.90" y="343.72" width="6.25" height="6.18" fill="#0000ff"/>
<rect x="364.85" y="343.72" width="6.25" height="6.18" fill="#0000b2"/>
<rect x="347.00" y="349.60" width="18.15" height="6.18" fill="#00008c"/>
<rect x="364.85" y="349.60" width="6.25" height="6.18" fill="#0000b2"/>
<rect x="352.95" y="355.48" width="6.25" height="6.18" fill="#0000b2"/>
<rect x="358.90" y="355.48" width="6.25" height="6.18" fill="#0040ff"/>
<rect x="364.85" y="355.48" width="6.25" height="6.18" fill="#0000b2"/>
<rect x="347.00" y="361.36" width="12.20" height="6.18" fill="#0000b2"/>
<rect x="358.90" y="361.36" width="6.25" height="6.18" fill="#0040ff"/>
<rect x="364.85" y="361.36" width="6.25" height="6.18" fill="#0000ff"/>
<rect x="347.00" y="367.24" width="6.25" height="6.18" fill="#0000b2"/>
<rect x="352.95" y="367.24" width="6.25" height="6.18" fill="#00008c"/>
<rect x="358.90" y="367.24" width="12.20" height="6.18" fill="#0000b2"/>
<rect x="341.05" y="373.12" width="18.15" height="6.18" fill="#0000b2"/>
<rect x="358.90" y="373.12" width="6.25" height="6.18" fill="#0000ff"/>
<rect x="364.85" y="373.12" width="6.25" height="6.18" fill="#0000b2"/>
<rect x="335.10" y="379.00" width="6.25" height="6.18" fill="#0000ff"/>
<rect x="341.05" y="379.00" width="12.20" height="6.18" fill="#0000b2"/>
<rect x="352.95" y="379.00" width="6.25" height="6.18" fill="#0080ff"/>
<rect x="358.90" y="379.00" width="12.20" height="6.18" fill="#0000b2"/>
<rect x="329.15" y="384.88" width="6.25" height="6.18" fill="#0000ff"/>
<rect x="335.10" y="384.88" width="12.20" height="6.18" fill="#0000b2"/>
<rect x="347.00" y="384.88" width="6.25" height="6.18" fill="#0000ff"/>
<rect x="352.95" y="384.88" width="18.15" height="6.18" fill="#0000b2"/>
<rect x="341.05" y="390.76" width="6.25" height="6.18" fill="#0000ff"/>
<rect x="352.95" y="390.76" width="18.15" height="6.18" fill="#0000b2"/>
<rect x="352.95" y="396.64" width="6.25" height="6.18" fill="#0000ff"/>
<rect x="358.90" y="396.64" width="6.25" height="6.18" fill="#0000b2"/>
<rect x="364.85" y="396.64" width="6.25" height="6.18" fill="#0040ff"/>
<rect x="347.00" y="402.52" width="18.15" height="6.18" fill="#0000b2"/>
<rect x="364.85" y="402.52" width="6.25" height="6.18" fill="#0040ff"/>
<rect x="341.05" y="408.40" width="6.25" height="6.18" fill="#0040ff"/>
<rect x="347.00" y="408.40" width="6.25" height="6.18" fill="#0000b2"/>
<rect x="352.95" y="408.40" width="6.25" height="6.18" fill="#0000ff"/>
<rect x="358.90" y="408.40" width="6.25" height="6.18" fill="#0080ff"/>
<rect x="364.85" y="408.40" width="6.25" height="6.18" fill="#00bfff"/>
<rect x="335.10" y="414.28" width="6.25" height="6.18" fill="#0040ff"/>
<rect x="341.05" y="414.28" width="12.20" height="6.18" fill="#00008c"/>
<rect x="352.95" y="414.28" width="6.25" height="6.18" fill="#0000ff"/>
<rect x="358.90" y="414.28" width="6.25" height="6.18" fill="#0080ff"/>
<rect x="364.85" y="414.28" width="6.25" height="6.18" fill="#00008c"/>
<rect x="335.10" y="420.16" width="6.25" height="6.18" fill="#0040ff"/>
<rect x="341.05" y="420.16" width="6.25" height="6.18" fill="#00bfff"/>
<rect x="347.00" y="420.16" width="12.20" height="6.18" fill="#40ffbf"/>
<rect x="358.90" y="420.16" width="6.25" height="6.18" fill="#00008c"/>
<rect x="364.85" y="420.16" width="6.25" height="6.18" fill="#0000ff"/>
<rect x="352.95" y="426.04" width="12.20" height="6.18" fill="#00ffff"/>
<rect x="364.85" y="426.04" width="6.25" height="6.18" fill="#0000ff"/>
<rect x="347.00" y="431.92" width="6.25" height="6.18" fill="#40ffbf"/>
<rect x="352.95" y="431.92" width="12.20" height="6.18" fill="#0040ff"/>
<rect x="364.85" y="431.92" width="6.25" height="6.18" fill="#0000ff"/>
<rect x="347.00" y="437.80" width="6.25" height="6.18" fill="#0080ff"/>
<rect x="352.95" y="437.80" width="12.20" height="6.18" fill="#0000ff"/>
<rect x="364.85" y="437.80" width="6.25" height="6.18" fill="#0000b2"/>
<rect x="341.05" y="443.68" width="6.25" height="6.18" fill="#0080ff"/>
<rect x="347.00" y="443.68" width="12.20" height="6.18" fill="#0000b2"/>
<rect x="358.90" y="443.68" width="6.25" height="6.18" fill="#00008c"/>
<rect x="364.85" y="443.68" width="6.25" height="6.18" fill="#0000b2"/>
<rect x="341.05" y="449.56" width="6.25" height="6.18" fill="#0040ff"/>
<rect x="347.00" y="449.56" width="18.15" height="6.18" fill="#00008c"/>
<rect x="364.85" y="449.56" width="6.25" height="6.18" fill="#0000b2"/>
<rect x="347.00" y="455.44" width="18.15" height="6.18" fill="#0000ff"/>
<rect x="364.85" y="455.44" width="6.25" height="6.18" fill="#0080ff"/>
<rect x="347.00" y="461.32" width="6.25" height="6.18" fill="#0000ff"/>
<rect x="352.95" y="461.32" width="6.25" height="6.18" fill="#80ff80"/>
<rect x="358.90" y="461.32" width="6.25" height="6.18" fill="#ffff00"/>
<rect x="364.85" y="461.32" width="6.25" height="6.18" fill="#0080ff"/>
<rect x="341.05" y="467.20" width="6.25" height="6.18" fill="#0000ff"/>
<rect x="347.00" y="467.20" width="6.25" height="6.18" fill="#ffff00"/>
<rect x="352.95" y="467.20" width="6.25" height="6.18" fill="#ff8000"/>
<rect x="358.90" y="467.20" width="12.20" height="6.18" fill="#00ffff"/>
<rect x="335.10" y="473.08" width="6.25" height="6.18" fill="#0000ff"/>
<rect x="341.05" y="473.08" width="12.20" height="6.18" fill="#ff8000"/>
<rect x="352.95" y="473.08" width="6.25" height="6.18" fill="#80ff80"/>
<rect x="358.90" y="473.08" width="6.25" height="6.18" fill="#ffff00"/>
<rect x="364.85" y="473.08" width="6.25" height="6.18" fill="#0080ff"/>
<rect x="335.10" y="478.96" width="6.25" height="6.18" fill="#ffff00"/>
<rect x="341.05" y="478.96" width="6.25" height="6.18" fill="#ff0000"/>
<rect x="347.00" y="478.96" width="6.25" height="6.18" fill="#40ffbf"/>
<rect x="352.95" y="478.96" width="6.25" height="6.18" fill="#bfff40"/>
<rect x="358.90" y="478.96" width="6.25" height="6.18" fill="#00ffff"/>
<rect x="364.85" y="478.96" width="6.25" height="6.18" fill="#0000b2"/>
<rect x="347.00" y="484.84" width="6.25" height="6.18" fill="#ff0000"/>
<rect x="352.95" y="484.84" width="6.25" height="6.18" fill="#00ffff"/>
<rect x="358.90" y="484.84" width="6.25" height="6.18" fill="#0000ff"/>
<rect x="364.85" y="484.84" width="6.25" height="6.18" fill="#0000b2"/>
<rect x="352.95" y="490.72" width="12.20" height="6.18" fill="#0080ff"/>
<rect x="364.85" y="490.72" width="6.25" height="6.18" fill="#0000ff"/>
<rect x="347.00" y="496.60" width="6.25" height="6.18" fill="#0040ff"/>
<rect x="352.95" y="496.60" width="18.15" height="6.18" fill="#0000ff"/>
<rect x="341.05" y="502.48" width="6.25" height="6.18" fill="#0080ff"/>
<rect x="347.00" y="502.48" width="6.25" height="6.18" fill="#0000ff"/>
<rect x="352.95" y="502.48" width="6.25" height="6.18" fill="#00008c"/>
<rect x="358.90" y="502.48" width="6.25" height="6.18" fill="#0040ff"/>
<rect x="364.85" y="502.48" width="6.25" height="6.18" fill="#0000b2"/>
<rect x="358.90" y="508.36" width="12.20" height="6.18" fill="#0040ff"/>
<rect x="352.95" y="514.24" width="6.25" height="6.18" fill="#0000b2"/>
<rect x="358.90" y="514.24" width="6.25" height="6.18" fill="#0040ff"/>
<rect x="364.85" y="514.24" width="6.25" height="6.18" fill="#0080ff"/>
<rect x="347.00" y="520.12" width="6.25" height="6.18" fill="#00008c"/>
<rect x="352.95" y="520.12" width="6.25" height="6.18" fill="#0040ff"/>
<rect x="358.90" y="520.12" width="6.25" height="6.18" fill="#0000ff"/>
<rect x="364.85" y="520.12" width="6.25" height="6.18" fill="#0000b2"/>
<rect x="341.05" y="526.00" width="6.25" height="6.18" fill="#0000b2"/>
<rect x="347.00" y="526.00" width="12.20" height="6.18" fill="#0040ff"/>
<rect x="358.90" y="526.00" width="12.20" height="6.18" fill="#00008c"/>
<rect x="347.00" y="531.88" width="12.20" height="6.18" fill="#0040ff"/>
<rect x="358.90" y="531.88" width="12.20" height="6.18" fill="#00008c"/>
<rect x="341.05" y="537.76" width="18.15" height="6.18" fill="#0000b2"/>
<rect x="358.90" y="537.76" width="12.20" height="6.18" fill="#00008c"/>
<rect x="335.10" y="543.64" width="24.10" height="6.18" fill="#0000b2"/>
<rect x="358.90" y="543.64" width="12.20" height="6.18" fill="#00008c"/>
<rect x="335.10" y="549.52" width="18.15" height="6.18" fill="#00008c"/>
<rect x="352.95" y="549.52" width="6.25" height="6.18" fill="#0040ff"/>
<rect x="358.90" y="549.52" width="12.20" height="6.18" fill="#0000ff"/>
<rect x="335.10" y="555.40" width="6.25" height="6.18" fill="#0000b2"/>
<rect x="341.05" y="555.40" width="6.25" height="6.18" fill="#0040ff"/>
<rect x="347.00" y="555.40" width="6.25" height="6.18" fill="#ffbf00"/>
<rect x="352.95" y="555.40" width="6.25" height="6.18" fill="#80ff80"/>
<rect x="358.90" y="555.40" width="6.25" height="6.18" fill="#00bfff"/>
<rect x="364.85" y="555.40" width="6.25" height="6.18" fill="#0040ff"/>
<rect x="329.15" y="561.28" width="6.25" height="6.18" fill="#0000b2"/>
<rect x="335.10" y="561.28" width="6.25" height="6.18" fill="#0040ff"/>
<rect x="341.05" y="561.28" width="6.25" height="6.18" fill="#ff8000"/>
<rect x="347.00" y="561.28" width="6.25" height="6.18" fill="#00bfff"/>
<rect x="352.95" y="561.28" width="12.20" height="6.18" fill="#0080ff"/>
<rect x="364.85" y="561.28" width="6.25" height="6.18" fill="#0000ff"/>
<rect x="329.15" y="567.16" width="6.25" height="6.18" fill="#00bfff"/>
<rect x="335.10" y="567.16" width="6.25" height="6.18" fill="#ff0000"/>
<rect x="341.05" y="567.16" width="12.20" height="6.18" fill="#0080ff"/>
<rect x="352.95" y="567.16" width="6.25" height="6.18" fill="#0000ff"/>
<rect x="358.90" y="567.16" width="6.25" height="6.18" fill="#00bfff"/>
<rect x="364.85" y="567.16" width="6.25" height="6.18" fill="#0080ff"/>
<rect x="347.00" y="573.04" width="6.25" height="6.18" fill="#80ff80"/>
<rect x="352.95" y="573.04" width="6.25" height="6.18" fill="#0000ff"/>
<rect x="358.90" y="573.04" width="6.25" height="6.18" fill="#00bfff"/>
<rect x="364.85" y="573.04" width="6.25" height="6.18" fill="#0040ff"/>
<rect x="347.00" y="578.92" width="6.25" height="6.18" fill="#0080ff"/>
<rect x="352.95" y="578.92" width="12.20" height="6.18" fill="#00bfff"/>
<rect x="364.85" y="578.92" width="6.25" height="6.18" fill="#0040ff"/>
<rect x="341.05" y="584.80" width="6.25" height="6.18" fill="#0000ff"/>
<rect x="347.00" y="584.80" width="6.25" height="6.18" fill="#00bfff"/>
<rect x="352.95" y="584.80" width="6.25" height="6.18" fill="#00008c"/>
<rect x="358.90" y="584.80" width="6.25" height="6.18" fill="#0080ff"/>
<rect x="364.85" y="584.80" width="6.25" height="6.18" fill="#0040ff"/>
<rect x="352.95" y="590.68" width="6.25" height="6.18" fill="#0000b2"/>
<rect x="358.90" y="590.68" width="6.25" height="6.18" fill="#00ffff"/>
<rect x="364.85" y="590.68" width="6.25" height="6.18" fill="#80ff80"/>
<rect x="358.90" y="596.56" width="6.25" height="6.18" fill="#0000ff"/>
<rect x="364.85" y="596.56" width="6.25" height="6.18" fill="#00008c"/>
<rect x="364.85" y="602.44" width="6.25" height="6.18" fill="#00bfff"/>
<rect x="358.90" y="608.32" width="6.25" height="6.18" fill="#00ffff"/>
<rect x="364.85" y="608.32" width="6.25" height="6.18" fill="#ffff00"/>
<rect x="352.95" y="614.20" width="6.25" height="6.18" fill="#0080ff"/>
<rect x="358.90" y="614.20" width="6.25" height="6.18" fill="#0000ff"/>
<rect x="364.85" y="614.20" width="6.25" height="6.18" fill="#00ffff"/>
<rect x="347.00" y="620.08" width="6.25" height="6.18" fill="#bfff40"/>
<rect x="352.95" y="620.08" width="6.25" height="6.18" fill="#40ffbf"/>
<rect x="358.90" y="620.08" width="6.25" height="6.18" fill="#0080ff"/>
<rect x="364.85" y="620.08" width="6.25" height="6.18" fill="#80ff80"/>
<rect x="341.05" y="625.96" width="6.25" height="6.18" fill="#00ffff"/>
<rect x="347.00" y="625.96" width="6.25" height="6.18" fill="#40ffbf"/>
<rect x="352.95" y="625.96" width="6.25" height="6.18" fill="#0000ff"/>
<rect x="358.90" y="625.96" width="6.25" height="6.18" fill="#00ffff"/>
<rect x="364.85" y="625.96" width="6.25" height="6.18" fill="#0000b2"/>
<rect x="364.85" y="637.72" width="6.25" height="6.18" fill="#00bfff"/>
<rect x="364.85" y="649.48" width="6.25" height="6.18" fill="#0000ff"/>
<rect x="364.85" y="655.36" width="6.25" height="6.18" fill="#00bfff"/>
<rect x="358.90" y="661.24" width="6.25" height="6.18" fill="#0000b2"/>
<rect x="364.85" y="661.24" width="6.25" height="6.18" fill="#00ffff"/>
<rect x="352.95" y="667.12" width="6.25" height="6.18" fill="#00008c"/>
<rect x="358.90" y="667.12" width="6.25" height="6.18" fill="#0040ff"/>
<rect x="364.85" y="667.12" width="6.25" height="6.18" fill="#0000b2"/>
<rect x="358.90" y="673.00" width="6.25" height="6.18" fill="#0000b2"/>
<rect x="364.85" y="673.00" width="6.25" height="6.18" fill="#80ff80"/>
<rect x="352.95" y="678.88" width="6.25" height="6.18" fill="#0000b2"/>
<rect x="358.90" y="678.88" width="6.25" height="6.18" fill="#0080ff"/>
<rect x="364.85" y="678.88" width="6.25" height="6.18" fill="#0000b2"/>
<rect x="352.95" y="684.76" width="6.25" height="6.18" fill="#0000ff"/>
<rect x="358.90" y="684.76" width="12.20" height="6.18" fill="#0000b2"/>
<rect x="352.95" y="690.64" width="6.25" height="6.18" fill="#0000ff"/>
<rect x="358.90" y="690.64" width="12.20" height="6.18" fill="#0000b2"/>
<rect x="347.00" y="696.52" width="6.25" height="6.18" fill="#0000b2"/>
<rect x="352.95" y="696.52" width="6.25" height="6.18" fill="#00008c"/>
<rect x="358.90" y="696.52" width="6.25" height="6.18" fill="#0000b2"/>
<rect x="364.85" y="696.52" width="6.25" height="6.18" fill="#0080ff"/>
<rect x="341.05" y="702.40" width="6.25" height="6.18" fill="#00008c"/>
<rect x="347.00" y="702.40" width="6.25" height="6.18" fill="#0000b2"/>
<rect x="352.95" y="702.40" width="6.25" height="6.18" fill="#0000ff"/>
<rect x="358.90" y="702.40" width="12.20" height="6.18" fill="#0000b2"/>
<rect x="335.10" y="708.28" width="6.25" height="6.18" fill="#0000b2"/>
<rect x="341.05" y="708.28" width="6.25" height="6.18" fill="#0080ff"/>
<rect x="347.00" y="708.28" width="6.25" height="6.18" fill="#0000b2"/>
<rect x="352.95" y="708.28" width="6.25" height="6.18" fill="#0080ff"/>
<rect x="358.90" y="708.28" width="6.25" height="6.18" fill="#0040ff"/>
<rect x="364.85" y="708.28" width="6.25" height="6.18" fill="#00bfff"/>
<rect x="341.05" y="714.16" width="12.20" height="6.18" fill="#0000b2"/>
<rect x="352.95" y="714.16" width="6.25" height="6.18" fill="#0040ff"/>
<rect x="358.90" y="714.16" width="6.25" height="6.18" fill="#00ffff"/>
<rect x="364.85" y="714.16" width="6.25" height="6.18" fill="#0000b2"/>
<rect x="335.10" y="720.04" width="6.25" height="6.18" fill="#0000b2"/>
<rect x="341.05" y="720.04" width="12.20" height="6.18" fill="#00008c"/>
<rect x="352.95" y="720.04" width="6.25" height="6.18" fill="#40ffbf"/>
<rect x="358.90" y="720.04" width="6.25" height="6.18" fill="#00008c"/>
<rect x="364.85" y="720.04" width="6.25" height="6.18" fill="#0000b2"/>
<rect x="341.05" y="725.92" width="6.25" height="6.18" fill="#0080ff"/>
<rect x="347.00" y="725.92" width="6.25" height="6.18" fill="#ffbf00"/>
<rect x="352.95" y="725.92" width="6.25" height="6.18" fill="#00008c"/>
<rect x="358.90" y="725.92" width="6.25" height="6.18" fill="#00ffff"/>
<rect x="364.85" y="725.92" width="6.25" height="6.18" fill="#0000b2"/>
<rect x="341.05" y="731.80" width="6.25" height="6.18" fill="#ffff00"/>
<rect x="352.95" y="731.80" width="6.25" height="6.18" fill="#40ffbf"/>
<rect x="358.90" y="731.80" width="6.25" height="6.18" fill="#0000ff"/>
<rect x="364.85" y="731.80" width="6.25" height="6.18" fill="#0000b2"/>
<rect x="352.95" y="737.68" width="12.20" height="6.18" fill="#0000b2"/>
<rect x="347.00" y="743.56" width="12.20" height="6.18" fill="#00008c"/>
</g>
<text x="325.6" y="295.9" font-size="6.0" fill="#8a8a8a" text-anchor="middle" stroke="none">C</text>
<text x="325.6" y="301.8" font-size="6.0" fill="#8a8a8a" text-anchor="middle" stroke="none">A</text>
<text x="325.6" y="307.7" font-size="6.0" fill="#8a8a8a" text-anchor="middle" stroke="none">A</text>
<text x="325.6" y="313.6" font-size="6.0" fill="#8a8a8a" text-anchor="middle" stroke="none">C</text>
<text x="325.6" y="319.5" font-size="6.0" fill="#8a8a8a" text-anchor="middle" stroke="none">G</text>
<text x="325.6" y="325.3" font-size="6.0" fill="#111" text-anchor="middle" stroke="none">C</text>
<text x="325.6" y="331.2" font-size="6.0" fill="#111" text-anchor="middle" stroke="none">U</text>
<text x="325.6" y="337.1" font-size="6.0" fill="#111" text-anchor="middle" stroke="none">U</text>
<text x="325.6" y="343.0" font-size="6.0" fill="#111" text-anchor="middle" stroke="none">C</text>
<text x="325.6" y="348.9" font-size="6.0" fill="#111" text-anchor="middle" stroke="none">A</text>
<text x="325.6" y="354.8" font-size="6.0" fill="#111" text-anchor="middle" stroke="none">U</text>
<text x="325.6" y="360.6" font-size="6.0" fill="#111" text-anchor="middle" stroke="none">A</text>
<text x="325.6" y="366.5" font-size="6.0" fill="#2eb82e" text-anchor="middle" stroke="none">U</text>
<text x="325.6" y="372.4" font-size="6.0" fill="#111" text-anchor="middle" stroke="none">A</text>
<text x="325.6" y="378.3" font-size="6.0" fill="#111" text-anchor="middle" stroke="none">A</text>
<text x="325.6" y="384.1" font-size="6.0" fill="#111" text-anchor="middle" stroke="none">U</text>
<text x="325.6" y="390.0" font-size="6.0" fill="#111" text-anchor="middle" stroke="none">C</text>
<text x="325.6" y="395.9" font-size="6.0" fill="#111" text-anchor="middle" stroke="none">C</text>
<text x="325.6" y="401.8" font-size="6.0" fill="#111" text-anchor="middle" stroke="none">U</text>
<text x="325.6" y="407.7" font-size="6.0" fill="#111" text-anchor="middle" stroke="none">A</text>
<text x="325.6" y="413.5" font-size="6.0" fill="#111" text-anchor="middle" stroke="none">A</text>
<text x="325.6" y="419.4" font-size="6.0" fill="#111" text-anchor="middle" stroke="none">U</text>
<text x="325.6" y="425.3" font-size="6.0" fill="#111" text-anchor="middle" stroke="none">G</text>
<text x="325.6" y="431.2" font-size="6.0" fill="#111" text-anchor="middle" stroke="none">A</text>
<text x="325.6" y="437.1" font-size="6.0" fill="#111" text-anchor="middle" stroke="none">U</text>
<text x="325.6" y="442.9" font-size="6.0" fill="#111" text-anchor="middle" stroke="none">A</text>
<text x="325.6" y="448.8" font-size="6.0" fill="#111" text-anchor="middle" stroke="none">U</text>
<text x="325.6" y="454.7" font-size="6.0" fill="#111" text-anchor="middle" stroke="none">G</text>
<text x="325.6" y="460.6" font-size="6.0" fill="#111" text-anchor="middle" stroke="none">G</text>
<text x="325.6" y="466.5" font-size="6.0" fill="#111" text-anchor="middle" stroke="none">U</text>
<text x="325.6" y="472.4" font-size="6.0" fill="#111" text-anchor="middle" stroke="none">U</text>
<text x="325.6" y="478.2" font-size="6.0" fill="#111" text-anchor="middle" stroke="none">U</text>
<text x="325.6" y="484.1" font-size="6.0" fill="#111" text-anchor="middle" stroke="none">G</text>
<text x="325.6" y="490.0" font-size="6.0" fill="#111" text-anchor="middle" stroke="none">G</text>
<text x="325.6" y="495.9" font-size="6.0" fill="#111" text-anchor="middle" stroke="none">G</text>
<text x="325.6" y="501.8" font-size="6.0" fill="#111" text-anchor="middle" stroke="none">A</text>
<text x="325.6" y="507.6" font-size="6.0" fill="#111" text-anchor="middle" stroke="none">G</text>
<text x="325.6" y="513.5" font-size="6.0" fill="#2eb82e" text-anchor="middle" stroke="none">U</text>
<text x="325.6" y="519.4" font-size="6.0" fill="#111" text-anchor="middle" stroke="none">U</text>
<text x="325.6" y="525.3" font-size="6.0" fill="#111" text-anchor="middle" stroke="none">U</text>
<text x="325.6" y="531.1" font-size="6.0" fill="#111" text-anchor="middle" stroke="none">C</text>
<text x="325.6" y="537.0" font-size="6.0" fill="#2eb82e" text-anchor="middle" stroke="none">U</text>
<text x="325.6" y="542.9" font-size="6.0" fill="#111" text-anchor="middle" stroke="none">A</text>
<text x="325.6" y="548.8" font-size="6.0" fill="#111" text-anchor="middle" stroke="none">C</text>
<text x="325.6" y="554.7" font-size="6.0" fill="#111" text-anchor="middle" stroke="none">C</text>
<text x="325.6" y="560.6" font-size="6.0" fill="#111" text-anchor="middle" stroke="none">A</text>
<text x="325.6" y="566.4" font-size="6.0" fill="#111" text-anchor="middle" stroke="none">A</text>
<text x="325.6" y="572.3" font-size="6.0" fill="#111" text-anchor="middle" stroke="none">G</text>
<text x="325.6" y="578.2" font-size="6.0" fill="#111" text-anchor="middle" stroke="none">A</text>
<text x="325.6" y="584.1" font-size="6.0" fill="#111" text-anchor="middle" stroke="none">G</text>
<text x="325.6" y="589.9" font-size="6.0" fill="#111" text-anchor="middle" stroke="none">C</text>
<text x="325.6" y="595.8" font-size="6.0" fill="#111" text-anchor="middle" stroke="none">C</text>
<text x="325.6" y="601.7" font-size="6.0" fill="#111" text-anchor="middle" stroke="none">U</text>
<text x="325.6" y="607.6" font-size="6.0" fill="#111" text-anchor="middle" stroke="none">U</text>
<text x="325.6" y="613.5" font-size="6.0" fill="#111" text-anchor="middle" stroke="none">A</text>
<text x="325.6" y="619.4" font-size="6.0" fill="#111" text-anchor="middle" stroke="none">A</text>
<text x="325.6" y="625.2" font-size="6.0" fill="#111" text-anchor="middle" stroke="none">A</text>
<text x="325.6" y="631.1" font-size="6.0" fill="#111" text-anchor="middle" stroke="none">C</text>
<text x="325.6" y="637.0" font-size="6.0" fill="#111" text-anchor="middle" stroke="none">U</text>
<text x="325.6" y="642.9" font-size="6.0" fill="#111" text-anchor="middle" stroke="none">C</text>
<text x="325.6" y="648.8" font-size="6.0" fill="#111" text-anchor="middle" stroke="none">U</text>
<text x="325.6" y="654.6" font-size="6.0" fill="#111" text-anchor="middle" stroke="none">U</text>
<text x="325.6" y="660.5" font-size="6.0" fill="#111" text-anchor="middle" stroke="none">G</text>
<text x="325.6" y="666.4" font-size="6.0" fill="#111" text-anchor="middle" stroke="none">A</text>
<text x="325.6" y="672.3" font-size="6.0" fill="#2eb82e" text-anchor="middle" stroke="none">U</text>
<text x="325.6" y="678.1" font-size="6.0" fill="#111" text-anchor="middle" stroke="none">U</text>
<text x="325.6" y="684.0" font-size="6.0" fill="#111" text-anchor="middle" stroke="none">A</text>
<text x="325.6" y="689.9" font-size="6.0" fill="#111" text-anchor="middle" stroke="none">U</text>
<text x="325.6" y="695.8" font-size="6.0" fill="#111" text-anchor="middle" stroke="none">G</text>
<text x="325.6" y="701.7" font-size="6.0" fill="#111" text-anchor="middle" stroke="none">A</text>
<text x="325.6" y="707.5" font-size="6.0" fill="#111" text-anchor="middle" stroke="none">A</text>
<text x="325.6" y="713.4" font-size="6.0" fill="#111" text-anchor="middle" stroke="none">G</text>
<text x="325.6" y="719.3" font-size="6.0" fill="#8a8a8a" text-anchor="middle" stroke="none">U</text>
<text x="325.6" y="725.2" font-size="6.0" fill="#8a8a8a" text-anchor="middle" stroke="none">C</text>
<text x="325.6" y="731.1" font-size="6.0" fill="#8a8a8a" text-anchor="middle" stroke="none">U</text>
<text x="325.6" y="736.9" font-size="6.0" fill="#8a8a8a" text-anchor="middle" stroke="none">G</text>
<text x="325.6" y="742.8" font-size="6.0" fill="#8a8a8a" text-anchor="middle" stroke="none">U</text>
<text x="325.6" y="748.7" font-size="6.0" fill="#8a8a8a" text-anchor="middle" stroke="none">C</text>
<text x="325.6" y="754.6" font-size="6.0" fill="#8a8a8a" text-anchor="middle" stroke="none">G</text>
<text x="325.6" y="760.5" font-size="6.0" fill="#8a8a8a" text-anchor="middle" stroke="none">C</text>
<text x="325.6" y="766.4" font-size="6.0" fill="#8a8a8a" text-anchor="middle" stroke="none">U</text>
<text x="325.6" y="772.2" font-size="6.0" fill="#8a8a8a" text-anchor="middle" stroke="none">U</text>
<text x="325.6" y="778.1" font-size="6.0" fill="#8a8a8a" text-anchor="middle" stroke="none">U</text>
<text x="325.6" y="784.0" font-size="6.0" fill="#8a8a8a" text-anchor="middle" stroke="none">A</text>
<text x="325.6" y="789.9" font-size="6.0" fill="#8a8a8a" text-anchor="middle" stroke="none">U</text>
<text x="325.6" y="795.8" font-size="6.0" fill="#8a8a8a" text-anchor="middle" stroke="none">C</text>
<text x="325.6" y="801.6" font-size="6.0" fill="#8a8a8a" text-anchor="middle" stroke="none">C</text>
<text x="321.4" y="296.0" font-size="6.3" fill="#222" text-anchor="end" stroke="#222" stroke-width="0.1">10</text>
<text x="318.7" y="354.8" font-size="6.3" fill="#222" text-anchor="end" stroke="#222" stroke-width="0.1">20</text>
<text x="318.7" y="413.6" font-size="6.3" fill="#222" text-anchor="end" stroke="#222" stroke-width="0.1">30</text>
<text x="318.7" y="472.4" font-size="6.3" fill="#222" text-anchor="end" stroke="#222" stroke-width="0.1">40</text>
<text x="318.7" y="531.2" font-size="6.3" fill="#222" text-anchor="end" stroke="#222" stroke-width="0.1">50</text>
<text x="318.7" y="590.0" font-size="6.3" fill="#222" text-anchor="end" stroke="#222" stroke-width="0.1">60</text>
<text x="318.7" y="648.8" font-size="6.3" fill="#222" text-anchor="end" stroke="#222" stroke-width="0.1">70</text>
<text x="318.7" y="707.6" font-size="6.3" fill="#222" text-anchor="end" stroke="#222" stroke-width="0.1">80</text>
<text x="318.7" y="766.4" font-size="6.3" fill="#222" text-anchor="end" stroke="#222" stroke-width="0.1">90</text>
<line x1="321.7" y1="320.8" x2="321.7" y2="361.0" stroke="#000" stroke-width="1.15"/>
<line x1="321.7" y1="379.6" x2="321.7" y2="419.8" stroke="#000" stroke-width="1.15"/>
<line x1="321.7" y1="461.9" x2="321.7" y2="502.1" stroke="#000" stroke-width="1.15"/>
<line x1="321.7" y1="550.1" x2="321.7" y2="584.4" stroke="#000" stroke-width="1.15"/>
<line x1="321.7" y1="626.6" x2="321.7" y2="660.8" stroke="#000" stroke-width="1.15"/>
<line x1="321.7" y1="673.6" x2="321.7" y2="713.8" stroke="#000" stroke-width="1.15"/>
<line x1="321.7" y1="714.8" x2="321.7" y2="749.0" stroke="#000" stroke-width="1.15"/>
<line x1="321.7" y1="750.0" x2="321.7" y2="790.2" stroke="#000" stroke-width="1.15"/>
<path d="M320.0 703.0 V714.0 H321.7" fill="none" stroke="#000" stroke-width="1.15"/>
<text x="311.8" y="343.0" font-size="9.5" fill="#111" text-anchor="middle" stroke="#111" stroke-width="0.1">P1</text>
<text x="311.8" y="401.8" font-size="9.5" fill="#111" text-anchor="middle" stroke="#111" stroke-width="0.1">P2</text>
<text x="311.8" y="483.0" font-size="9.5" fill="#111" text-anchor="middle" stroke="#111" stroke-width="0.1">P2</text>
<text x="311.8" y="570.0" font-size="9.5" fill="#111" text-anchor="middle" stroke="#111" stroke-width="0.1">P3</text>
<text x="311.8" y="640.0" font-size="9.5" fill="#111" text-anchor="middle" stroke="#111" stroke-width="0.1">P3</text>
<text x="311.8" y="698.8" font-size="9.5" fill="#111" text-anchor="middle" stroke="#111" stroke-width="0.1">P1</text>
<text x="311.8" y="732.9" font-size="9.5" fill="#111" text-anchor="middle" stroke="#111" stroke-width="0.1">P4</text>
<text x="311.8" y="777.6" font-size="9.5" fill="#111" text-anchor="middle" stroke="#111" stroke-width="0.1">P5</text>
<text transform="translate(300.2,326) rotate(-90)" font-size="9.7" fill="#111" text-anchor="middle">5′ duplex start site</text>
<text x="282.2" y="250.0" font-size="9.5" fill="#111" text-anchor="start" stroke="#111" stroke-width="0.1">23°C, 12mM Mg</text>
<text x="350.4" y="246.4" font-size="6.3" fill="#111" text-anchor="start" stroke="#111" stroke-width="0.1">2+</text>
<text x="362.6" y="250.0" font-size="9.5" fill="#111" text-anchor="start" font-style="italic" stroke="#111" stroke-width="0.1">k</text>
<text x="367.8" y="249.0" font-size="9.5" fill="#111" text-anchor="start" stroke="#111" stroke-width="0.1">*</text>
<text x="372.4" y="252.2" font-size="6.0" fill="#111" text-anchor="start" stroke="#111" stroke-width="0.1">off,4 mM</text>
<text x="400.2" y="250.0" font-size="9.5" fill="#111" text-anchor="start" stroke="#111" stroke-width="0.1">[h</text>
<text x="408.1" y="246.4" font-size="6.5" fill="#111" text-anchor="start" stroke="#111" stroke-width="0.1">−1</text>
<text x="416.2" y="250.0" font-size="9.5" fill="#111" text-anchor="start" stroke="#111" stroke-width="0.1">]</text>
<text x="327.7" y="261.3" font-size="9.5" fill="#111" text-anchor="middle" stroke="#111" stroke-width="0.1">0</text>
<g shape-rendering="crispEdges">
<rect x="334.10" y="256.9" width="1.29" height="4" fill="#00008f"/>
<rect x="335.09" y="256.9" width="1.29" height="4" fill="#0000af"/>
<rect x="336.09" y="256.9" width="1.29" height="4" fill="#0000cf"/>
<rect x="337.08" y="256.9" width="1.29" height="4" fill="#0000ef"/>
<rect x="338.08" y="256.9" width="1.29" height="4" fill="#0010ff"/>
<rect x="339.07" y="256.9" width="1.29" height="4" fill="#0030ff"/>
<rect x="340.06" y="256.9" width="1.29" height="4" fill="#0050ff"/>
<rect x="341.06" y="256.9" width="1.29" height="4" fill="#0070ff"/>
<rect x="342.05" y="256.9" width="1.29" height="4" fill="#008fff"/>
<rect x="343.04" y="256.9" width="1.29" height="4" fill="#00afff"/>
<rect x="344.04" y="256.9" width="1.29" height="4" fill="#00cfff"/>
<rect x="345.03" y="256.9" width="1.29" height="4" fill="#00efff"/>
<rect x="346.03" y="256.9" width="1.29" height="4" fill="#10ffef"/>
<rect x="347.02" y="256.9" width="1.29" height="4" fill="#30ffcf"/>
<rect x="348.01" y="256.9" width="1.29" height="4" fill="#50ffaf"/>
<rect x="349.01" y="256.9" width="1.29" height="4" fill="#70ff8f"/>
<rect x="350.00" y="256.9" width="1.29" height="4" fill="#8fff70"/>
<rect x="350.99" y="256.9" width="1.29" height="4" fill="#afff50"/>
<rect x="351.99" y="256.9" width="1.29" height="4" fill="#cfff30"/>
<rect x="352.98" y="256.9" width="1.29" height="4" fill="#efff10"/>
<rect x="353.98" y="256.9" width="1.29" height="4" fill="#ffef00"/>
<rect x="354.97" y="256.9" width="1.29" height="4" fill="#ffcf00"/>
<rect x="355.96" y="256.9" width="1.29" height="4" fill="#ffaf00"/>
<rect x="356.96" y="256.9" width="1.29" height="4" fill="#ff8f00"/>
<rect x="357.95" y="256.9" width="1.29" height="4" fill="#ff7000"/>
<rect x="358.94" y="256.9" width="1.29" height="4" fill="#ff5000"/>
<rect x="359.94" y="256.9" width="1.29" height="4" fill="#ff3000"/>
<rect x="360.93" y="256.9" width="1.29" height="4" fill="#ff1000"/>
<rect x="361.93" y="256.9" width="1.29" height="4" fill="#ef0000"/>
<rect x="362.92" y="256.9" width="1.29" height="4" fill="#cf0000"/>
<rect x="363.91" y="256.9" width="1.29" height="4" fill="#af0000"/>
<rect x="364.91" y="256.9" width="1.29" height="4" fill="#8f0000"/>
</g>
<text x="368.7" y="261.3" font-size="9.5" fill="#111" text-anchor="start" stroke="#111" stroke-width="0.1">0.2</text>
<text x="350.1" y="275.5" font-size="9.5" fill="#111" text-anchor="middle" stroke="#111" stroke-width="0.1">Duplex length [bp]</text>
<text x="332.4" y="287.7" font-size="8.6" fill="#111" text-anchor="middle" stroke="#111" stroke-width="0.1">6</text>
<text x="350.1" y="287.7" font-size="8.6" fill="#111" text-anchor="middle" stroke="#111" stroke-width="0.1">9</text>
<text x="367.0" y="287.7" font-size="8.6" fill="#111" text-anchor="middle" stroke="#111" stroke-width="0.1">12</text>
<text x="39.4" y="34.4" font-size="8.7" fill="#111" text-anchor="middle" stroke="#111" stroke-width="0.22">G</text>
<text x="47.9" y="34.4" font-size="8.7" fill="#111" text-anchor="middle" stroke="#111" stroke-width="0.22">G</text>
<text x="57.6" y="34.4" font-size="8.7" fill="#111" text-anchor="middle" stroke="#111" stroke-width="0.22">U</text>
<text x="66.5" y="34.4" font-size="8.7" fill="#111" text-anchor="middle" stroke="#111" stroke-width="0.22">U</text>
<text x="75.3" y="34.4" font-size="8.7" fill="#111" text-anchor="middle" stroke="#111" stroke-width="0.22">U</text>
<text x="84.9" y="34.4" font-size="8.7" fill="#111" text-anchor="middle" stroke="#111" stroke-width="0.22">G</text>
<text x="94.7" y="34.4" font-size="8.7" fill="#111" text-anchor="middle" stroke="#111" stroke-width="0.22">G</text>
<text x="104.2" y="34.4" font-size="8.7" fill="#111" text-anchor="middle" stroke="#111" stroke-width="0.22">G</text>
<text x="113.8" y="34.4" font-size="8.7" fill="#111" text-anchor="middle" stroke="#111" stroke-width="0.22">A</text>
<text x="123.6" y="34.4" font-size="8.7" fill="#111" text-anchor="middle" stroke="#111" stroke-width="0.22">G</text>
<text x="31.7" y="32.5" font-size="8.7" fill="#111" text-anchor="middle" stroke="#111" stroke-width="0.22">U</text>
<text x="24.1" y="28.1" font-size="8.7" fill="#111" text-anchor="middle" stroke="#111" stroke-width="0.22">A</text>
<text x="15.5" y="27.8" font-size="8.7" fill="#111" text-anchor="middle" stroke="#111" stroke-width="0.22">U</text>
<text x="8.0" y="34.0" font-size="8.7" fill="#111" text-anchor="middle" stroke="#111" stroke-width="0.22">A</text>
<text x="2.9" y="42.1" font-size="8.7" fill="#111" text-anchor="middle" stroke="#111" stroke-width="0.22">G</text>
<text x="8.0" y="50.5" font-size="8.7" fill="#111" text-anchor="middle" stroke="#111" stroke-width="0.22">U</text>
<text x="15.3" y="56.8" font-size="8.7" fill="#111" text-anchor="middle" stroke="#111" stroke-width="0.22">A</text>
<text x="24.1" y="56.8" font-size="8.7" fill="#111" text-anchor="middle" stroke="#111" stroke-width="0.22">A</text>
<text x="31.7" y="52.4" font-size="8.7" fill="#111" text-anchor="middle" stroke="#111" stroke-width="0.22">U</text>
<text x="39.4" y="49.5" font-size="8.7" fill="#111" text-anchor="middle" stroke="#111" stroke-width="0.22">C</text>
<text x="48.6" y="49.5" font-size="8.7" fill="#111" text-anchor="middle" stroke="#111" stroke-width="0.22">C</text>
<text x="55.5" y="54.9" font-size="8.7" fill="#111" text-anchor="middle" stroke="#111" stroke-width="0.22">U</text>
<text x="58.7" y="62.1" font-size="8.7" fill="#111" text-anchor="middle" stroke="#111" stroke-width="0.22">A</text>
<text x="64.7" y="69.7" font-size="8.7" fill="#111" text-anchor="middle" stroke="#111" stroke-width="0.22">A</text>
<text x="78.8" y="69.7" font-size="8.7" fill="#111" text-anchor="middle" stroke="#111" stroke-width="0.22">A</text>
<text x="85.0" y="62.1" font-size="8.7" fill="#111" text-anchor="middle" stroke="#111" stroke-width="0.22">U</text>
<text x="88.8" y="54.9" font-size="8.7" fill="#111" text-anchor="middle" stroke="#111" stroke-width="0.22">A</text>
<text x="94.7" y="49.8" font-size="8.7" fill="#111" text-anchor="middle" stroke="#111" stroke-width="0.22">C</text>
<text x="104.2" y="49.8" font-size="8.7" fill="#111" text-anchor="middle" stroke="#111" stroke-width="0.22">U</text>
<text x="113.8" y="49.8" font-size="8.7" fill="#111" text-anchor="middle" stroke="#111" stroke-width="0.22">U</text>
<text x="123.6" y="49.8" font-size="8.7" fill="#111" text-anchor="middle" stroke="#111" stroke-width="0.22">C</text>
<text x="140.1" y="31.0" font-size="8.7" fill="#111" text-anchor="middle" stroke="#111" stroke-width="0.22">U</text>
<text x="149.1" y="30.0" font-size="8.7" fill="#111" text-anchor="middle" stroke="#111" stroke-width="0.22">U</text>
<text x="159.3" y="30.3" font-size="8.7" fill="#111" text-anchor="middle" stroke="#111" stroke-width="0.22">C</text>
<text x="175.8" y="42.4" font-size="8.7" fill="#111" text-anchor="middle" stroke="#111" stroke-width="0.22">A</text>
<text x="181.2" y="50.9" font-size="8.7" fill="#111" text-anchor="middle" stroke="#111" stroke-width="0.22">C</text>
<text x="177.0" y="84.9" font-size="8.7" fill="#111" text-anchor="middle" stroke="#111" stroke-width="0.22">A</text>
<text x="159.5" y="103.5" font-size="8.7" fill="#111" text-anchor="middle" stroke="#111" stroke-width="0.22">U</text>
<text x="159.5" y="113.0" font-size="8.7" fill="#111" text-anchor="middle" stroke="#111" stroke-width="0.22">A</text>
<text x="159.5" y="122.6" font-size="8.7" fill="#111" text-anchor="middle" stroke="#111" stroke-width="0.22">U</text>
<text x="159.5" y="132.3" font-size="8.7" fill="#111" text-anchor="middle" stroke="#111" stroke-width="0.22">G</text>
<text x="159.5" y="141.8" font-size="8.7" fill="#111" text-anchor="middle" stroke="#111" stroke-width="0.22">A</text>
<text x="159.5" y="151.7" font-size="8.7" fill="#111" text-anchor="middle" stroke="#111" stroke-width="0.22">A</text>
<text x="159.5" y="161.2" font-size="8.7" fill="#111" text-anchor="middle" stroke="#111" stroke-width="0.22">G</text>
<text x="243.5" y="54.1" font-size="8.7" fill="#111" text-anchor="middle" stroke="#111" stroke-width="0.22">C</text>
<text x="253.4" y="51.5" font-size="8.7" fill="#111" text-anchor="middle" stroke="#111" stroke-width="0.22">C</text>
<text x="264.4" y="58.1" font-size="8.7" fill="#111" text-anchor="middle" stroke="#111" stroke-width="0.22">U</text>
<text x="269.3" y="68.1" font-size="8.7" fill="#111" text-anchor="middle" stroke="#111" stroke-width="0.22">U</text>
<text x="264.4" y="77.6" font-size="8.7" fill="#111" text-anchor="middle" stroke="#111" stroke-width="0.22">A</text>
<text x="253.4" y="83.7" font-size="8.7" fill="#111" text-anchor="middle" stroke="#111" stroke-width="0.22">A</text>
<text x="243.5" y="81.7" font-size="8.7" fill="#111" text-anchor="middle" stroke="#111" stroke-width="0.22">A</text>
<text x="71.8" y="72.9" font-size="8.7" fill="#2eb82e" text-anchor="middle" stroke="#2eb82e" stroke-width="0.22">U</text>
<text x="132.6" y="34.4" font-size="8.7" fill="#2eb82e" text-anchor="middle" stroke="#2eb82e" stroke-width="0.22">U</text>
<text x="168.4" y="34.0" font-size="8.7" fill="#2eb82e" text-anchor="middle" stroke="#2eb82e" stroke-width="0.22">U</text>
<text x="168.1" y="93.9" font-size="8.7" fill="#2eb82e" text-anchor="middle" stroke="#2eb82e" stroke-width="0.22">U</text>
<text x="132.6" y="49.8" font-size="8.7" fill="#8a8a8a" text-anchor="middle" stroke="#8a8a8a" stroke-width="0.22">G</text>
<text x="139.6" y="56.0" font-size="8.7" fill="#8a8a8a" text-anchor="middle" stroke="#8a8a8a" stroke-width="0.22">C</text>
<text x="139.6" y="64.9" font-size="8.7" fill="#8a8a8a" text-anchor="middle" stroke="#8a8a8a" stroke-width="0.22">A</text>
<text x="136.7" y="73.9" font-size="8.7" fill="#8a8a8a" text-anchor="middle" stroke="#8a8a8a" stroke-width="0.22">A</text>
<text x="131.6" y="83.0" font-size="8.7" fill="#8a8a8a" text-anchor="middle" stroke="#8a8a8a" stroke-width="0.22">C</text>
<text x="162.4" y="171.1" font-size="8.7" fill="#8a8a8a" text-anchor="middle" stroke="#8a8a8a" stroke-width="0.22">U</text>
<text x="169.4" y="179.8" font-size="8.7" fill="#8a8a8a" text-anchor="middle" stroke="#8a8a8a" stroke-width="0.22">C</text>
<text x="177.4" y="187.8" font-size="8.7" fill="#8a8a8a" text-anchor="middle" stroke="#8a8a8a" stroke-width="0.22">U</text>
<text x="186.2" y="189.8" font-size="8.7" fill="#8a8a8a" text-anchor="middle" stroke="#8a8a8a" stroke-width="0.22">G</text>
<text x="195.7" y="189.8" font-size="8.7" fill="#8a8a8a" text-anchor="middle" stroke="#8a8a8a" stroke-width="0.22">U</text>
<text x="205.5" y="189.8" font-size="8.7" fill="#8a8a8a" text-anchor="middle" stroke="#8a8a8a" stroke-width="0.22">C</text>
<text x="215.4" y="189.8" font-size="8.7" fill="#8a8a8a" text-anchor="middle" stroke="#8a8a8a" stroke-width="0.22">G</text>
<text x="225.3" y="189.8" font-size="8.7" fill="#8a8a8a" text-anchor="middle" stroke="#8a8a8a" stroke-width="0.22">C</text>
<text x="235.2" y="189.8" font-size="8.7" fill="#8a8a8a" text-anchor="middle" stroke="#8a8a8a" stroke-width="0.22">U</text>
<text x="244.2" y="189.8" font-size="8.7" fill="#8a8a8a" text-anchor="middle" stroke="#8a8a8a" stroke-width="0.22">U</text>
<text x="253.6" y="189.8" font-size="8.7" fill="#8a8a8a" text-anchor="middle" stroke="#8a8a8a" stroke-width="0.22">U</text>
<text x="263.7" y="189.8" font-size="8.7" fill="#8a8a8a" text-anchor="middle" stroke="#8a8a8a" stroke-width="0.22">A</text>
<text x="273.3" y="189.8" font-size="8.7" fill="#8a8a8a" text-anchor="middle" stroke="#8a8a8a" stroke-width="0.22">U</text>
<text x="280.6" y="196.2" font-size="8.7" fill="#8a8a8a" text-anchor="middle" stroke="#8a8a8a" stroke-width="0.22">C</text>
<text x="288.6" y="200.0" font-size="8.7" fill="#8a8a8a" text-anchor="middle" stroke="#8a8a8a" stroke-width="0.22">C</text>
<text x="186.9" y="60.2" font-size="8.7" fill="#111" text-anchor="middle" stroke="#111" stroke-width="0.22">C</text>
<text x="186.9" y="74.9" font-size="8.7" fill="#111" text-anchor="middle" stroke="#111" stroke-width="0.22">G</text>
<line x1="186.9" y1="62.6" x2="186.9" y2="67.4" stroke="#111" stroke-width="1.0"/>
<text x="196.6" y="60.2" font-size="8.7" fill="#111" text-anchor="middle" stroke="#111" stroke-width="0.22">A</text>
<text x="196.6" y="74.9" font-size="8.7" fill="#111" text-anchor="middle" stroke="#111" stroke-width="0.22">U</text>
<line x1="196.6" y1="62.6" x2="196.6" y2="67.4" stroke="#111" stroke-width="1.0"/>
<text x="206.3" y="60.2" font-size="8.7" fill="#111" text-anchor="middle" stroke="#111" stroke-width="0.22">A</text>
<text x="206.3" y="74.9" font-size="8.7" fill="#111" text-anchor="middle" stroke="#111" stroke-width="0.22">U</text>
<line x1="206.3" y1="62.6" x2="206.3" y2="67.4" stroke="#111" stroke-width="1.0"/>
<text x="216.1" y="60.2" font-size="8.7" fill="#111" text-anchor="middle" stroke="#111" stroke-width="0.22">G</text>
<text x="216.1" y="74.9" font-size="8.7" fill="#111" text-anchor="middle" stroke="#111" stroke-width="0.22">C</text>
<line x1="216.1" y1="62.6" x2="216.1" y2="67.4" stroke="#111" stroke-width="1.0"/>
<text x="225.8" y="60.2" font-size="8.7" fill="#111" text-anchor="middle" stroke="#111" stroke-width="0.22">A</text>
<text x="225.8" y="74.9" font-size="8.7" fill="#111" text-anchor="middle" stroke="#111" stroke-width="0.22">U</text>
<line x1="225.8" y1="62.6" x2="225.8" y2="67.4" stroke="#111" stroke-width="1.0"/>
<text x="235.5" y="60.2" font-size="8.7" fill="#111" text-anchor="middle" stroke="#111" stroke-width="0.22">G</text>
<text x="235.5" y="74.9" font-size="8.7" fill="#111" text-anchor="middle" stroke="#111" stroke-width="0.22">C</text>
<line x1="235.5" y1="62.6" x2="235.5" y2="67.4" stroke="#111" stroke-width="1.0"/>
<line x1="39.4" y1="36.4" x2="39.4" y2="41.3" stroke="#111" stroke-width="1.0"/>
<line x1="48.3" y1="36.4" x2="48.3" y2="41.3" stroke="#111" stroke-width="1.0"/>
<line x1="94.7" y1="36.4" x2="94.7" y2="41.3" stroke="#111" stroke-width="1.0"/>
<line x1="113.8" y1="36.4" x2="113.8" y2="41.3" stroke="#111" stroke-width="1.0"/>
<line x1="123.6" y1="36.4" x2="123.6" y2="41.3" stroke="#111" stroke-width="1.0"/>
<circle cx="104.2" cy="38.9" r="1.45" fill="#111"/>
<circle cx="132.6" cy="38.9" r="1.45" fill="#111"/>
<text x="67.4" y="23.8" font-size="7.2" fill="#111" text-anchor="middle" stroke="#111" stroke-width="0.15">40</text>
<text x="13.1" y="66.6" font-size="7.2" fill="#111" text-anchor="middle" stroke="#111" stroke-width="0.15">30</text>
<text x="92.8" y="69.5" font-size="7.2" fill="#111" text-anchor="middle" stroke="#111" stroke-width="0.15">20</text>
<text x="160.1" y="20.9" font-size="7.2" fill="#111" text-anchor="middle" stroke="#111" stroke-width="0.15">50</text>
<text x="122.8" y="76.8" font-size="7.2" fill="#111" text-anchor="middle" stroke="#111" stroke-width="0.15">10</text>
<text x="236.9" y="46.9" font-size="7.2" fill="#111" text-anchor="middle" stroke="#111" stroke-width="0.15">60</text>
<text x="206.7" y="85.6" font-size="7.2" fill="#111" text-anchor="middle" stroke="#111" stroke-width="0.15">70</text>
<text x="234.6" y="199.6" font-size="7.2" fill="#111" text-anchor="middle" stroke="#111" stroke-width="0.15">90</text>
<text x="163.7" y="151.5" font-size="7.2" fill="#222" text-anchor="start" stroke="#222" stroke-width="0.1">80</text>
<text x="110.6" y="83.6" font-size="7.6" fill="#222" text-anchor="middle" stroke="#222" stroke-width="0.1">5′</text>
<text x="171.8" y="19.7" font-size="9.5" fill="#111" text-anchor="start" stroke="#111" stroke-width="0.1">J2-3</text>
<text x="175.4" y="96.6" font-size="9.5" fill="#111" text-anchor="start" stroke="#111" stroke-width="0.1">J3-1</text>
<text x="203.8" y="47.9" font-size="9.5" fill="#111" text-anchor="start" stroke="#111" stroke-width="0.1">P3</text>
<text x="249.3" y="93.7" font-size="9.5" fill="#111" text-anchor="start" stroke="#111" stroke-width="0.1">L3</text>
<text x="137.6" y="153.7" font-size="9.5" fill="#111" text-anchor="start" stroke="#111" stroke-width="0.1">P4</text>
<text x="246.0" y="202.7" font-size="9.5" fill="#111" text-anchor="start" stroke="#111" stroke-width="0.1">P5</text>
<text x="226.6" y="114.7" font-size="8.6" fill="#111" text-anchor="start" stroke="#111" stroke-width="0.1">3′</text>
<text x="182.6" y="124.6" font-size="9.5" fill="#e0202a" text-anchor="start" stroke="#e0202a" stroke-width="0.1">Start codon</text>
<text x="188.4" y="164.8" font-size="9.5" fill="#e0202a" text-anchor="start" stroke="#e0202a" stroke-width="0.1">SD sequence</text>
<text x="252.4" y="128.3" font-size="9.5" fill="#111" text-anchor="start" stroke="#111" stroke-width="0.1">apoB state</text>
<path d="M182.4 52.3 H240.6 V76.6 H182.4 Z" fill="none" stroke="#777" stroke-width="0.75" stroke-dasharray="1.3 0.9"/>
<path d="M186 106.4 H155.5 V170.2 L176.4 191.4 H211 V170.9 H186.5 Q177.6 170 177.6 161.5 V117 Q178 108 186 106.4" fill="none" stroke="#777" stroke-width="0.75" stroke-dasharray="1.3 0.9"/>
<path d="M211 170.5 H278 V191.4 H211 Z" fill="none" stroke="#777" stroke-width="0.75" stroke-dasharray="1.3 0.9"/>
<path d="M225.3 106.5 H191.5" fill="none" stroke="#111" stroke-width="1.15"/>
<path d="M191.5 106.5 Q175 107.5 174.5 124.5" fill="none" stroke="#e0202a" stroke-width="1.15"/>
<path d="M174.5 124.5 V160 Q174.6 168 181.5 171.6" fill="none" stroke="#111" stroke-width="1.15"/>
<path d="M181.5 171.6 Q186 174.5 192 174.5 H211" fill="none" stroke="#e0202a" stroke-width="1.15"/>
<path d="M211 174.5 H278.3 A16.9 16.9 0 1 1 293.6 197.6" fill="none" stroke="#111" stroke-width="1.15"/>
<defs><radialGradient id="glow"><stop offset="0" stop-color="#fff" stop-opacity="1"/><stop offset="0.3" stop-color="#fff0e4" stop-opacity="0.95"/><stop offset="0.65" stop-color="#f9b083" stop-opacity="0.7"/><stop offset="1" stop-color="#ee6a1c" stop-opacity="0"/></radialGradient></defs>
<polygon points="120.5,85.5 120.7,90.6 125.8,90.8 122.3,94.6 125.8,98.4 120.7,98.6 120.5,103.7 116.7,100.2 112.9,103.7 112.7,98.6 107.6,98.4 111.1,94.6 107.6,90.8 112.7,90.6 112.9,85.5 116.7,89.0" fill="#ec651a"/>
<circle cx="116.7" cy="94.6" r="5.6" fill="url(#glow)"/>
<line x1="123.7" y1="87.7" x2="128.6" y2="83.5" stroke="#111" stroke-width="1.1"/>
<path d="M303.3 123.1 H341.1" stroke="#111" stroke-width="1.1" fill="none"/>
<path d="M341.4 123.5 L329.3 119.7 L331.5 123.5 Z" fill="#111"/>
<path d="M341.1 129.3 H303.3" stroke="#111" stroke-width="1.1" fill="none"/>
<path d="M303.0 128.9 L315.1 132.7 L312.9 128.9 Z" fill="#111"/>
<text x="318.4" y="142" font-size="9.5" fill="#111"><tspan font-style="italic">K</tspan><tspan dy="2.6" font-size="6.2">pre</tspan></text>
<text x="335.5" y="40.2" font-size="8.3" fill="#111" text-anchor="middle" stroke="#111" stroke-width="0.22">G</text>
<text x="345.7" y="44.6" font-size="8.3" fill="#111" text-anchor="middle" stroke="#111" stroke-width="0.22">G</text>
<text x="324.5" y="46.5" font-size="8.3" fill="#111" text-anchor="middle" stroke="#111" stroke-width="0.22">U</text>
<text x="320.0" y="58.5" font-size="8.3" fill="#111" text-anchor="middle" stroke="#111" stroke-width="0.22">A</text>
<text x="324.5" y="70.0" font-size="8.3" fill="#111" text-anchor="middle" stroke="#111" stroke-width="0.22">U</text>
<text x="335.5" y="76.4" font-size="8.3" fill="#111" text-anchor="middle" stroke="#111" stroke-width="0.22">A</text>
<text x="345.7" y="72.2" font-size="8.3" fill="#111" text-anchor="middle" stroke="#111" stroke-width="0.22">G</text>
<text x="418.5" y="41.8" font-size="8.3" fill="#111" text-anchor="middle" stroke="#111" stroke-width="0.22">G</text>
<text x="434.2" y="30.8" font-size="8.3" fill="#111" text-anchor="middle" stroke="#111" stroke-width="0.22">U</text>
<text x="443.6" y="29.8" font-size="8.3" fill="#111" text-anchor="middle" stroke="#111" stroke-width="0.22">U</text>
<text x="453.5" y="30.3" font-size="8.3" fill="#111" text-anchor="middle" stroke="#111" stroke-width="0.22">C</text>
<text x="469.6" y="42.4" font-size="8.3" fill="#111" text-anchor="middle" stroke="#111" stroke-width="0.22">A</text>
<text x="475.1" y="50.9" font-size="8.3" fill="#111" text-anchor="middle" stroke="#111" stroke-width="0.22">C</text>
<text x="417.7" y="75.4" font-size="8.3" fill="#111" text-anchor="middle" stroke="#111" stroke-width="0.22">A</text>
<text x="424.7" y="84.9" font-size="8.3" fill="#111" text-anchor="middle" stroke="#111" stroke-width="0.22">A</text>
<text x="471.0" y="84.9" font-size="8.3" fill="#111" text-anchor="middle" stroke="#111" stroke-width="0.22">A</text>
<text x="537.7" y="53.9" font-size="8.3" fill="#111" text-anchor="middle" stroke="#111" stroke-width="0.22">C</text>
<text x="547.4" y="51.5" font-size="8.3" fill="#111" text-anchor="middle" stroke="#111" stroke-width="0.22">C</text>
<text x="558.4" y="58.1" font-size="8.3" fill="#111" text-anchor="middle" stroke="#111" stroke-width="0.22">U</text>
<text x="563.5" y="68.1" font-size="8.3" fill="#111" text-anchor="middle" stroke="#111" stroke-width="0.22">U</text>
<text x="558.4" y="77.6" font-size="8.3" fill="#111" text-anchor="middle" stroke="#111" stroke-width="0.22">A</text>
<text x="547.4" y="83.7" font-size="8.3" fill="#111" text-anchor="middle" stroke="#111" stroke-width="0.22">A</text>
<text x="537.7" y="81.7" font-size="8.3" fill="#111" text-anchor="middle" stroke="#111" stroke-width="0.22">A</text>
<text x="434.8" y="104.1" font-size="8.3" fill="#111" text-anchor="middle" stroke="#111" stroke-width="0.22">A</text>
<text x="437.0" y="113.6" font-size="8.3" fill="#111" text-anchor="middle" stroke="#111" stroke-width="0.22">U</text>
<text x="437.4" y="123.0" font-size="8.3" fill="#111" text-anchor="middle" stroke="#111" stroke-width="0.22">A</text>
<text x="437.4" y="132.5" font-size="8.3" fill="#111" text-anchor="middle" stroke="#111" stroke-width="0.22">C</text>
<text x="437.4" y="142.0" font-size="8.3" fill="#111" text-anchor="middle" stroke="#111" stroke-width="0.22">U</text>
<text x="437.4" y="151.5" font-size="8.3" fill="#111" text-anchor="middle" stroke="#111" stroke-width="0.22">U</text>
<text x="437.0" y="161.2" font-size="8.3" fill="#111" text-anchor="middle" stroke="#111" stroke-width="0.22">C</text>
<text x="456.4" y="104.1" font-size="8.3" fill="#111" text-anchor="middle" stroke="#111" stroke-width="0.22">U</text>
<text x="454.2" y="113.6" font-size="8.3" fill="#111" text-anchor="middle" stroke="#111" stroke-width="0.22">A</text>
<text x="453.8" y="123.0" font-size="8.3" fill="#111" text-anchor="middle" stroke="#111" stroke-width="0.22">U</text>
<text x="453.8" y="132.5" font-size="8.3" fill="#111" text-anchor="middle" stroke="#111" stroke-width="0.22">G</text>
<text x="453.8" y="142.0" font-size="8.3" fill="#111" text-anchor="middle" stroke="#111" stroke-width="0.22">A</text>
<text x="453.8" y="151.5" font-size="8.3" fill="#111" text-anchor="middle" stroke="#111" stroke-width="0.22">A</text>
<text x="454.2" y="161.2" font-size="8.3" fill="#111" text-anchor="middle" stroke="#111" stroke-width="0.22">G</text>
<text x="425.5" y="34.8" font-size="8.3" fill="#2eb82e" text-anchor="middle" stroke="#2eb82e" stroke-width="0.22">U</text>
<text x="462.6" y="33.8" font-size="8.3" fill="#2eb82e" text-anchor="middle" stroke="#2eb82e" stroke-width="0.22">U</text>
<text x="429.4" y="94.4" font-size="8.3" fill="#2eb82e" text-anchor="middle" stroke="#2eb82e" stroke-width="0.22">U</text>
<text x="463.4" y="93.9" font-size="8.3" fill="#2eb82e" text-anchor="middle" stroke="#2eb82e" stroke-width="0.22">U</text>
<text x="433.1" y="170.5" font-size="8.3" fill="#8a8a8a" text-anchor="middle" stroke="#8a8a8a" stroke-width="0.22">G</text>
<text x="427.5" y="180.7" font-size="8.3" fill="#8a8a8a" text-anchor="middle" stroke="#8a8a8a" stroke-width="0.22">C</text>
<text x="422.0" y="188.3" font-size="8.3" fill="#8a8a8a" text-anchor="middle" stroke="#8a8a8a" stroke-width="0.22">A</text>
<text x="412.2" y="190.2" font-size="8.3" fill="#8a8a8a" text-anchor="middle" stroke="#8a8a8a" stroke-width="0.22">A</text>
<text x="401.8" y="190.2" font-size="8.3" fill="#8a8a8a" text-anchor="middle" stroke="#8a8a8a" stroke-width="0.22">C</text>
<text x="456.7" y="170.8" font-size="8.3" fill="#8a8a8a" text-anchor="middle" stroke="#8a8a8a" stroke-width="0.22">U</text>
<text x="463.3" y="179.2" font-size="8.3" fill="#8a8a8a" text-anchor="middle" stroke="#8a8a8a" stroke-width="0.22">C</text>
<text x="471.3" y="187.2" font-size="8.3" fill="#8a8a8a" text-anchor="middle" stroke="#8a8a8a" stroke-width="0.22">U</text>
<text x="480.1" y="189.5" font-size="8.3" fill="#8a8a8a" text-anchor="middle" stroke="#8a8a8a" stroke-width="0.22">G</text>
<text x="489.6" y="189.5" font-size="8.3" fill="#8a8a8a" text-anchor="middle" stroke="#8a8a8a" stroke-width="0.22">U</text>
<text x="499.3" y="189.5" font-size="8.3" fill="#8a8a8a" text-anchor="middle" stroke="#8a8a8a" stroke-width="0.22">C</text>
<text x="509.5" y="189.5" font-size="8.3" fill="#8a8a8a" text-anchor="middle" stroke="#8a8a8a" stroke-width="0.22">G</text>
<text x="519.0" y="189.5" font-size="8.3" fill="#8a8a8a" text-anchor="middle" stroke="#8a8a8a" stroke-width="0.22">C</text>
<text x="528.8" y="189.5" font-size="8.3" fill="#8a8a8a" text-anchor="middle" stroke="#8a8a8a" stroke-width="0.22">U</text>
<text x="538.2" y="189.5" font-size="8.3" fill="#8a8a8a" text-anchor="middle" stroke="#8a8a8a" stroke-width="0.22">U</text>
<text x="547.4" y="189.5" font-size="8.3" fill="#8a8a8a" text-anchor="middle" stroke="#8a8a8a" stroke-width="0.22">U</text>
<text x="557.4" y="189.5" font-size="8.3" fill="#8a8a8a" text-anchor="middle" stroke="#8a8a8a" stroke-width="0.22">A</text>
<text x="567.2" y="189.5" font-size="8.3" fill="#8a8a8a" text-anchor="middle" stroke="#8a8a8a" stroke-width="0.22">U</text>
<text x="574.7" y="196.0" font-size="8.3" fill="#8a8a8a" text-anchor="middle" stroke="#8a8a8a" stroke-width="0.22">C</text>
<text x="582.5" y="199.7" font-size="8.3" fill="#8a8a8a" text-anchor="middle" stroke="#8a8a8a" stroke-width="0.22">C</text>
<text x="353.8" y="50.9" font-size="8.3" fill="#111" text-anchor="middle" stroke="#111" stroke-width="0.22">U</text>
<text x="353.8" y="65.6" font-size="8.3" fill="#111" text-anchor="middle" stroke="#111" stroke-width="0.22">U</text>
<circle cx="353.8" cy="55.6" r="1.4" fill="#111"/>
<text x="363.7" y="50.9" font-size="8.3" fill="#111" text-anchor="middle" stroke="#111" stroke-width="0.22">U</text>
<text x="363.7" y="65.6" font-size="8.3" fill="#111" text-anchor="middle" stroke="#111" stroke-width="0.22">A</text>
<line x1="363.7" y1="53.0" x2="363.7" y2="58.0" stroke="#111" stroke-width="1.0"/>
<text x="373.6" y="50.9" font-size="8.3" fill="#111" text-anchor="middle" stroke="#111" stroke-width="0.22">U</text>
<text x="373.6" y="65.6" font-size="8.3" fill="#111" text-anchor="middle" stroke="#111" stroke-width="0.22">A</text>
<line x1="373.6" y1="53.0" x2="373.6" y2="58.0" stroke="#111" stroke-width="1.0"/>
<text x="383.4" y="50.9" font-size="8.3" fill="#111" text-anchor="middle" stroke="#111" stroke-width="0.22">G</text>
<text x="383.4" y="65.6" font-size="8.3" fill="#111" text-anchor="middle" stroke="#111" stroke-width="0.22">U</text>
<circle cx="383.4" cy="55.6" r="1.4" fill="#111"/>
<text x="393.3" y="50.9" font-size="8.3" fill="#111" text-anchor="middle" stroke="#111" stroke-width="0.22">G</text>
<text x="393.3" y="65.6" font-size="8.3" fill="#111" text-anchor="middle" stroke="#111" stroke-width="0.22">C</text>
<line x1="393.3" y1="53.0" x2="393.3" y2="58.0" stroke="#111" stroke-width="1.0"/>
<text x="403.2" y="50.9" font-size="8.3" fill="#111" text-anchor="middle" stroke="#111" stroke-width="0.22">G</text>
<text x="403.2" y="65.6" font-size="8.3" fill="#111" text-anchor="middle" stroke="#111" stroke-width="0.22">C</text>
<line x1="403.2" y1="53.0" x2="403.2" y2="58.0" stroke="#111" stroke-width="1.0"/>
<text x="413.1" y="50.9" font-size="8.3" fill="#111" text-anchor="middle" stroke="#111" stroke-width="0.22">A</text>
<text x="413.1" y="65.6" font-size="8.3" fill="#111" text-anchor="middle" stroke="#111" stroke-width="0.22">U</text>
<line x1="413.1" y1="53.0" x2="413.1" y2="58.0" stroke="#111" stroke-width="1.0"/>
<text x="480.6" y="60.2" font-size="8.3" fill="#111" text-anchor="middle" stroke="#111" stroke-width="0.22">C</text>
<text x="480.6" y="74.9" font-size="8.3" fill="#111" text-anchor="middle" stroke="#111" stroke-width="0.22">G</text>
<line x1="480.6" y1="62.6" x2="480.6" y2="67.4" stroke="#111" stroke-width="1.0"/>
<text x="490.3" y="60.2" font-size="8.3" fill="#111" text-anchor="middle" stroke="#111" stroke-width="0.22">A</text>
<text x="490.3" y="74.9" font-size="8.3" fill="#111" text-anchor="middle" stroke="#111" stroke-width="0.22">U</text>
<line x1="490.3" y1="62.6" x2="490.3" y2="67.4" stroke="#111" stroke-width="1.0"/>
<text x="500.1" y="60.2" font-size="8.3" fill="#111" text-anchor="middle" stroke="#111" stroke-width="0.22">A</text>
<text x="500.1" y="74.9" font-size="8.3" fill="#111" text-anchor="middle" stroke="#111" stroke-width="0.22">U</text>
<line x1="500.1" y1="62.6" x2="500.1" y2="67.4" stroke="#111" stroke-width="1.0"/>
<text x="509.8" y="60.2" font-size="8.3" fill="#111" text-anchor="middle" stroke="#111" stroke-width="0.22">G</text>
<text x="509.8" y="74.9" font-size="8.3" fill="#111" text-anchor="middle" stroke="#111" stroke-width="0.22">C</text>
<line x1="509.8" y1="62.6" x2="509.8" y2="67.4" stroke="#111" stroke-width="1.0"/>
<text x="519.6" y="60.2" font-size="8.3" fill="#111" text-anchor="middle" stroke="#111" stroke-width="0.22">A</text>
<text x="519.6" y="74.9" font-size="8.3" fill="#111" text-anchor="middle" stroke="#111" stroke-width="0.22">U</text>
<line x1="519.6" y1="62.6" x2="519.6" y2="67.4" stroke="#111" stroke-width="1.0"/>
<text x="529.3" y="60.2" font-size="8.3" fill="#111" text-anchor="middle" stroke="#111" stroke-width="0.22">G</text>
<text x="529.3" y="74.9" font-size="8.3" fill="#111" text-anchor="middle" stroke="#111" stroke-width="0.22">C</text>
<line x1="529.3" y1="62.6" x2="529.3" y2="67.4" stroke="#111" stroke-width="1.0"/>
<line x1="443.2" y1="119.9" x2="448.4" y2="119.9" stroke="#111" stroke-width="1.1"/>
<line x1="443.2" y1="129.4" x2="448.4" y2="129.4" stroke="#111" stroke-width="1.1"/>
<line x1="443.2" y1="138.9" x2="448.4" y2="138.9" stroke="#111" stroke-width="1.1"/>
<line x1="443.2" y1="148.4" x2="448.4" y2="148.4" stroke="#111" stroke-width="1.1"/>
<line x1="441.2" y1="100.9" x2="451.2" y2="100.9" stroke="#222" stroke-width="0.9" stroke-dasharray="1.9 1.7"/>
<line x1="441.2" y1="110.4" x2="451.2" y2="110.4" stroke="#222" stroke-width="0.9" stroke-dasharray="1.9 1.7"/>
<line x1="441.2" y1="158.2" x2="451.2" y2="158.2" stroke="#222" stroke-width="0.9" stroke-dasharray="1.9 1.7"/>
<text x="363.5" y="40.8" font-size="7.2" fill="#111" text-anchor="middle" stroke="#111" stroke-width="0.15">40</text>
<text x="362.8" y="76.1" font-size="7.2" fill="#111" text-anchor="middle" stroke="#111" stroke-width="0.15">30</text>
<text x="455.7" y="22.4" font-size="7.2" fill="#111" text-anchor="middle" stroke="#111" stroke-width="0.15">50</text>
<text x="531.8" y="48.1" font-size="7.2" fill="#111" text-anchor="middle" stroke="#111" stroke-width="0.15">60</text>
<text x="500.4" y="83.7" font-size="7.2" fill="#111" text-anchor="middle" stroke="#111" stroke-width="0.15">70</text>
<text x="529.2" y="198.2" font-size="7.2" fill="#111" text-anchor="middle" stroke="#111" stroke-width="0.15">90</text>
<text x="402.0" y="179.0" font-size="7.2" fill="#111" text-anchor="middle" stroke="#111" stroke-width="0.15">10</text>
<text x="430.6" y="113.4" font-size="7.2" fill="#222" text-anchor="end" stroke="#222" stroke-width="0.1">20</text>
<text x="459.6" y="151.3" font-size="7.2" fill="#222" text-anchor="start" stroke="#222" stroke-width="0.1">80</text>
<text x="393.6" y="200.9" font-size="7.6" fill="#222" text-anchor="middle" stroke="#222" stroke-width="0.1">5′</text>
<text x="331.8" y="87.6" font-size="9.5" fill="#111" text-anchor="start" stroke="#111" stroke-width="0.1">L2</text>
<text x="378.4" y="79.6" font-size="9.5" fill="#111" text-anchor="start" stroke="#111" stroke-width="0.1">P2</text>
<text x="398.0" y="93.0" font-size="9.5" fill="#111" text-anchor="start" stroke="#111" stroke-width="0.1">J1-2</text>
<text x="466.6" y="25.5" font-size="9.5" fill="#111" text-anchor="start" stroke="#111" stroke-width="0.1">J2-3</text>
<text x="468.8" y="95.6" font-size="9.5" fill="#111" text-anchor="start" stroke="#111" stroke-width="0.1">J3-1</text>
<text x="500.9" y="46.4" font-size="9.5" fill="#111" text-anchor="start" stroke="#111" stroke-width="0.1">P3</text>
<text x="543.8" y="93.0" font-size="9.5" fill="#111" text-anchor="start" stroke="#111" stroke-width="0.1">L3</text>
<text x="419.5" y="131.3" font-size="9.5" fill="#111" text-anchor="start" stroke="#111" stroke-width="0.1">P1</text>
<text x="455.3" y="200.5" font-size="9.5" fill="#111" text-anchor="start" stroke="#111" stroke-width="0.1">P4</text>
<text x="542.6" y="200.5" font-size="9.5" fill="#111" text-anchor="start" stroke="#111" stroke-width="0.1">P5</text>
<text x="527.0" y="116.0" font-size="8.6" fill="#111" text-anchor="start" stroke="#111" stroke-width="0.1">3′</text>
<text x="480.5" y="127.7" font-size="8.15" fill="#e0202a" text-anchor="start" stroke="#e0202a" stroke-width="0.1">Start codon</text>
<text x="480.1" y="164.7" font-size="8.1" fill="#e0202a" text-anchor="start" stroke="#e0202a" stroke-width="0.1">SD sequence</text>
<text x="347.2" y="128.7" font-size="9.5" fill="#111" text-anchor="start" stroke="#111" stroke-width="0.1">apoA state</text>
<text x="548.2" y="128.7" font-size="9.5" fill="#111" text-anchor="start" stroke="#111" stroke-width="0.1">apoA state</text>
<text x="642.4" y="128.7" font-size="9.5" fill="#111" text-anchor="start" stroke="#111" stroke-width="0.1">Holo state</text>
<path d="M350.1 43.4 H416.6 V67.4 H350.1 Z" fill="none" stroke="#777" stroke-width="0.75" stroke-dasharray="1.3 0.9"/>
<path d="M476.6 52.3 H534.3 V76.6 H476.6 Z" fill="none" stroke="#777" stroke-width="0.75" stroke-dasharray="1.3 0.9"/>
<path d="M429 95.8 H461.8 L457.4 119.2 V154.2 L459.6 162.3 H431.2 L433.4 154.2 V119.2 Z" fill="none" stroke="#777" stroke-width="0.75" stroke-dasharray="1.3 0.9"/>
<path d="M451.2 153.1 H471.3 V161.5 Q472.5 169.5 481 170.3 H505.6 V191 H469.1 L451.3 170 Z" fill="none" stroke="#777" stroke-width="0.75" stroke-dasharray="1.3 0.9"/>
<path d="M505.6 170.3 H571.5 V191 H505.6 Z" fill="none" stroke="#777" stroke-width="0.75" stroke-dasharray="1.3 0.9"/>
<path d="M335.3 32.4 V7 H547.4 V43.1" fill="none" stroke="#6a6a6a" stroke-width="0.95" stroke-dasharray="0.9 1.35"/>
<path d="M345.7 35.8 V14.2 H537.4 V45.3" fill="none" stroke="#6a6a6a" stroke-width="0.95" stroke-dasharray="0.9 1.35"/>
<path d="M443.5 32.2 L448.2 69.6" fill="none" stroke="#555" stroke-width="0.9" stroke-dasharray="1.8 1.9"/>
<path d="M452.9 32.8 L454.8 72.4" fill="none" stroke="#555" stroke-width="0.9" stroke-dasharray="1.8 1.9"/>
<path d="M424 40.2 L471 46.8" fill="none" stroke="#555" stroke-width="0.9" stroke-dasharray="1.8 1.9"/>
<line x1="467.2" y1="43.5" x2="463.4" y2="47.8" stroke="#333" stroke-width="0.9"/>
<path d="M463.4 47.8 L434 86.7" fill="none" stroke="#555" stroke-width="0.9" stroke-dasharray="1.8 1.9"/>
<path d="M449.6 81 L451.5 95.2" fill="none" stroke="#555" stroke-width="0.9" stroke-dasharray="1.8 1.9"/>
<path d="M455.3 81.9 L456.3 95.2" fill="none" stroke="#555" stroke-width="0.9" stroke-dasharray="1.8 1.9"/>
<path d="M427.3 35.8 L447.3 74.3" fill="none" stroke="#2eb82e" stroke-width="1.0" stroke-dasharray="1.9 1.8"/>
<path d="M461.5 35 L455.8 72.4" fill="none" stroke="#2eb82e" stroke-width="1.0" stroke-dasharray="1.9 1.8"/>
<path d="M447.3 79.1 L435.4 87.2" fill="none" stroke="#2eb82e" stroke-width="1.0" stroke-dasharray="1.9 1.8"/>
<path d="M457.7 81 L462.4 86.7" fill="none" stroke="#2eb82e" stroke-width="1.0" stroke-dasharray="1.9 1.8"/>
<g fill="#10c810" stroke="#10c810" stroke-width="0.9" stroke-linejoin="round"><polygon points="452.4,78.1 449.8,79.6 447.3,78.1 447.3,75.2 449.8,73.8 452.4,75.2"/><polygon points="457.5,79.0 454.9,80.5 452.4,79.0 452.4,76.0 454.9,74.5 457.5,76.0"/></g>
<g fill="#10c810" stroke="#10c810" stroke-width="1.4" stroke-linejoin="round"><polygon points="611.4,95.8 607.6,98.0 603.8,95.8 603.8,91.4 607.6,89.2 611.4,91.4"/><polygon points="619.3,97.1 615.4,99.4 611.4,97.1 611.4,92.5 615.4,90.2 619.3,92.5"/></g>
<path d="M530.2 120.7 L497.6 111.9" fill="none" stroke="#111" stroke-width="1.15"/>
<path d="M497.6 111.9 Q483 108.5 477.2 125" fill="none" stroke="#e0202a" stroke-width="1.15"/>
<path d="M477.2 125 L469.1 152.8 Q466.5 164 475.7 171.5" fill="none" stroke="#111" stroke-width="1.15"/>
<path d="M475.7 171.5 Q479.5 174.3 486 174.3 H505" fill="none" stroke="#e0202a" stroke-width="1.15"/>
<path d="M505 174.3 H571.8 A17.1 17.1 0 1 1 587.6 198" fill="none" stroke="#111" stroke-width="1.15"/>
<polygon points="383.3,177.9 383.5,183.0 388.6,183.2 385.1,187.0 388.6,190.8 383.5,191.0 383.3,196.1 379.5,192.6 375.7,196.1 375.5,191.0 370.4,190.8 373.9,187.0 370.4,183.2 375.5,183.0 375.7,177.9 379.5,181.4" fill="#ec651a"/>
<circle cx="379.5" cy="187" r="5.6" fill="url(#glow)"/>
<line x1="389.2" y1="187.0" x2="395.3" y2="187.0" stroke="#111" stroke-width="1.1"/>
<path d="M599.6 123.6 H638.3" stroke="#111" stroke-width="1.1" fill="none"/>
<path d="M638.6 124.0 L626.5 120.2 L628.7 124.0 Z" fill="#111"/>
<path d="M638.3 129.2 H599.6" stroke="#111" stroke-width="1.1" fill="none"/>
<path d="M599.3 128.8 L611.4 132.6 L609.2 128.8 Z" fill="#111"/>
<text x="618.7" y="141.8" font-size="9.5" fill="#111"><tspan font-style="italic">K</tspan><tspan dy="2.6" font-size="6.2">d</tspan></text>
<path d="M610.3 102.2 Q611 113.2 623.5 114.5" fill="none" stroke="#111" stroke-width="0.85"/>
<path d="M631 114.5 L622.2 111.9 L622.6 117 Z" fill="#111"/>
</svg>
</body></html>
